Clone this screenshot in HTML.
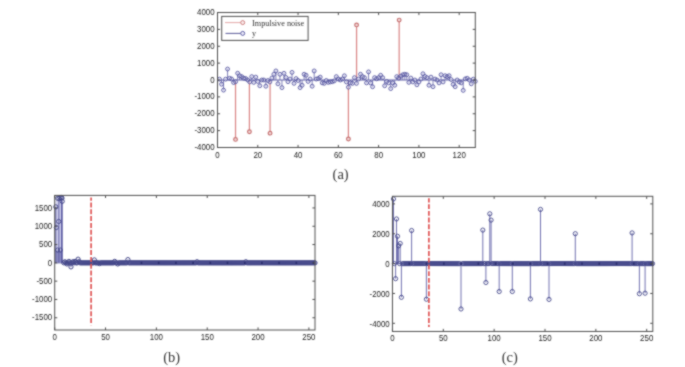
<!DOCTYPE html><html><head><meta charset="utf-8"><style>html,body{margin:0;padding:0;background:#fff;}svg{display:block;}.t{font-family:"Liberation Sans", sans-serif;font-size:8.5px;fill:#222222;}.cap{font-family:"Liberation Serif", serif;font-size:14.5px;fill:#383838;}.lg{font-family:"Liberation Serif", serif;font-size:8.2px;fill:#333;}</style></head><body>
<svg width="685" height="367" viewBox="0 0 685 367">
<defs><filter id="soft" x="0" y="0" width="100%" height="100%" color-interpolation-filters="sRGB"><feConvolveMatrix order="3" kernelMatrix="1 2 1 2 10 2 1 2 1" divisor="22" edgeMode="duplicate"/></filter></defs>
<g filter="url(#soft)">
<rect width="685" height="367" fill="#fff"/>
<g>
<path d="M235.53 80V139.4M249.42 80V131.81M270.07 80V133.16M348.41 80V139.06M356.57 80V24.9M399.17 80V20.09" stroke="#d98585" stroke-width="1.2" fill="none"/>
<path d="M233.68 139.4a1.85 1.85 0 1 0 3.7 0a1.85 1.85 0 1 0 -3.7 0M247.57 131.81a1.85 1.85 0 1 0 3.7 0a1.85 1.85 0 1 0 -3.7 0M268.22 133.16a1.85 1.85 0 1 0 3.7 0a1.85 1.85 0 1 0 -3.7 0M346.56 139.06a1.85 1.85 0 1 0 3.7 0a1.85 1.85 0 1 0 -3.7 0M354.72 24.9a1.85 1.85 0 1 0 3.7 0a1.85 1.85 0 1 0 -3.7 0M397.32 20.09a1.85 1.85 0 1 0 3.7 0a1.85 1.85 0 1 0 -3.7 0" stroke="#c67272" stroke-width="1.2" fill="#f3dcdc"/>
<path d="M217.5 80H475.3" stroke="#6262a8" stroke-width="1"/>
<path d="M219.51 80V79.16M221.53 80V84.22M223.54 80V90.12M225.56 80V79.16M227.57 80V69.03M229.58 80V78.31M231.6 80V78.99M233.61 80V82.53M235.63 80V81.69M237.64 80V73.25M239.65 80V75.78M241.67 80V76.62M243.68 80V78.14M245.7 80V78.57M247.71 80V80M249.72 80V81.91M251.74 80V76.62M253.75 80V82.38M255.77 80V77.13M257.78 80V81.43M259.8 80V85.74M261.81 80V80M263.82 80V80M265.84 80V86.21M267.85 80V80.51M269.87 80V81.91M271.88 80V78.09M273.89 80V74.26M275.91 80V70.94M277.92 80V83.81M279.94 80V74.26M281.95 80V87.63M283.96 80V73.32M285.98 80V77.47M287.99 80V81.69M290.01 80V79.04M292.02 80V72.37M294.03 80V83.34M296.05 80V78.57M298.06 80V80.47M300.08 80V87.63M302.09 80V85.25M304.1 80V74.26M306.12 80V75.22M308.13 80V81.43M310.15 80V79.04M312.16 80V86.21M314.18 80V70.94M316.19 80V79.04M318.2 80V78.57M320.22 80V77.13M322.23 80V82.87M324.25 80V83.34M326.26 80V80.47M328.27 80V82.38M330.29 80V81.91M332.3 80V81.69M334.32 80V80.84M336.33 80V76.62M338.34 80V79.04M340.36 80V80M342.37 80V79.04M344.39 80V75.78M346.4 80V81.91M348.41 80V87.17M350.43 80V82.87M352.44 80V83.38M354.46 80V77.64M356.47 80V83.38M358.48 80V79.04M360.5 80V74.26M362.51 80V76.62M364.53 80V77.64M366.54 80V82.87M368.55 80V71.9M370.57 80V82.87M372.58 80V86.75M374.6 80V77.64M376.61 80V78.82M378.62 80V77.64M380.64 80V75.28M382.65 80V77.64M384.67 80V85.74M386.68 80V81.43M388.7 80V82.87M390.71 80V88.61M392.72 80V82.87M394.74 80V85.25M396.75 80V76.62M398.77 80V78.09M400.78 80V76.19M402.79 80V74.75M404.81 80V74.26M406.82 80V74.75M408.84 80V82.38M410.85 80V78.09M412.86 80V81.91M414.88 80V80M416.89 80V84.78M418.91 80V81.91M420.92 80V79.04M422.93 80V73.76M424.95 80V76.46M426.96 80V77.64M428.98 80V85.25M430.99 80V77.13M433 80V86.68M435.02 80V79.04M437.03 80V80M439.05 80V82.87M441.06 80V74.75M443.08 80V81.91M445.09 80V75.71M447.1 80V76.62M449.12 80V75.71M451.13 80V79.53M453.15 80V84.29M455.16 80V86.68M457.17 80V80M459.19 80V81.91M461.2 80V82.87M463.22 80V90.38M465.23 80V78.9M467.24 80V78.31M469.26 80V80M471.27 80V83.8M473.29 80V79.16M475.3 80V81.35" stroke="#6262a8" stroke-width="0.8" fill="none"/>
<path d="M217.56 79.16a1.95 1.95 0 1 0 3.9 0a1.95 1.95 0 1 0 -3.9 0M219.58 84.22a1.95 1.95 0 1 0 3.9 0a1.95 1.95 0 1 0 -3.9 0M221.59 90.12a1.95 1.95 0 1 0 3.9 0a1.95 1.95 0 1 0 -3.9 0M223.61 79.16a1.95 1.95 0 1 0 3.9 0a1.95 1.95 0 1 0 -3.9 0M225.62 69.03a1.95 1.95 0 1 0 3.9 0a1.95 1.95 0 1 0 -3.9 0M227.63 78.31a1.95 1.95 0 1 0 3.9 0a1.95 1.95 0 1 0 -3.9 0M229.65 78.99a1.95 1.95 0 1 0 3.9 0a1.95 1.95 0 1 0 -3.9 0M231.66 82.53a1.95 1.95 0 1 0 3.9 0a1.95 1.95 0 1 0 -3.9 0M233.68 81.69a1.95 1.95 0 1 0 3.9 0a1.95 1.95 0 1 0 -3.9 0M235.69 73.25a1.95 1.95 0 1 0 3.9 0a1.95 1.95 0 1 0 -3.9 0M237.7 75.78a1.95 1.95 0 1 0 3.9 0a1.95 1.95 0 1 0 -3.9 0M239.72 76.62a1.95 1.95 0 1 0 3.9 0a1.95 1.95 0 1 0 -3.9 0M241.73 78.14a1.95 1.95 0 1 0 3.9 0a1.95 1.95 0 1 0 -3.9 0M243.75 78.57a1.95 1.95 0 1 0 3.9 0a1.95 1.95 0 1 0 -3.9 0M245.76 80a1.95 1.95 0 1 0 3.9 0a1.95 1.95 0 1 0 -3.9 0M247.78 81.91a1.95 1.95 0 1 0 3.9 0a1.95 1.95 0 1 0 -3.9 0M249.79 76.62a1.95 1.95 0 1 0 3.9 0a1.95 1.95 0 1 0 -3.9 0M251.8 82.38a1.95 1.95 0 1 0 3.9 0a1.95 1.95 0 1 0 -3.9 0M253.82 77.13a1.95 1.95 0 1 0 3.9 0a1.95 1.95 0 1 0 -3.9 0M255.83 81.43a1.95 1.95 0 1 0 3.9 0a1.95 1.95 0 1 0 -3.9 0M257.85 85.74a1.95 1.95 0 1 0 3.9 0a1.95 1.95 0 1 0 -3.9 0M259.86 80a1.95 1.95 0 1 0 3.9 0a1.95 1.95 0 1 0 -3.9 0M261.87 80a1.95 1.95 0 1 0 3.9 0a1.95 1.95 0 1 0 -3.9 0M263.89 86.21a1.95 1.95 0 1 0 3.9 0a1.95 1.95 0 1 0 -3.9 0M265.9 80.51a1.95 1.95 0 1 0 3.9 0a1.95 1.95 0 1 0 -3.9 0M267.92 81.91a1.95 1.95 0 1 0 3.9 0a1.95 1.95 0 1 0 -3.9 0M269.93 78.09a1.95 1.95 0 1 0 3.9 0a1.95 1.95 0 1 0 -3.9 0M271.94 74.26a1.95 1.95 0 1 0 3.9 0a1.95 1.95 0 1 0 -3.9 0M273.96 70.94a1.95 1.95 0 1 0 3.9 0a1.95 1.95 0 1 0 -3.9 0M275.97 83.81a1.95 1.95 0 1 0 3.9 0a1.95 1.95 0 1 0 -3.9 0M277.99 74.26a1.95 1.95 0 1 0 3.9 0a1.95 1.95 0 1 0 -3.9 0M280 87.63a1.95 1.95 0 1 0 3.9 0a1.95 1.95 0 1 0 -3.9 0M282.01 73.32a1.95 1.95 0 1 0 3.9 0a1.95 1.95 0 1 0 -3.9 0M284.03 77.47a1.95 1.95 0 1 0 3.9 0a1.95 1.95 0 1 0 -3.9 0M286.04 81.69a1.95 1.95 0 1 0 3.9 0a1.95 1.95 0 1 0 -3.9 0M288.06 79.04a1.95 1.95 0 1 0 3.9 0a1.95 1.95 0 1 0 -3.9 0M290.07 72.37a1.95 1.95 0 1 0 3.9 0a1.95 1.95 0 1 0 -3.9 0M292.08 83.34a1.95 1.95 0 1 0 3.9 0a1.95 1.95 0 1 0 -3.9 0M294.1 78.57a1.95 1.95 0 1 0 3.9 0a1.95 1.95 0 1 0 -3.9 0M296.11 80.47a1.95 1.95 0 1 0 3.9 0a1.95 1.95 0 1 0 -3.9 0M298.13 87.63a1.95 1.95 0 1 0 3.9 0a1.95 1.95 0 1 0 -3.9 0M300.14 85.25a1.95 1.95 0 1 0 3.9 0a1.95 1.95 0 1 0 -3.9 0M302.15 74.26a1.95 1.95 0 1 0 3.9 0a1.95 1.95 0 1 0 -3.9 0M304.17 75.22a1.95 1.95 0 1 0 3.9 0a1.95 1.95 0 1 0 -3.9 0M306.18 81.43a1.95 1.95 0 1 0 3.9 0a1.95 1.95 0 1 0 -3.9 0M308.2 79.04a1.95 1.95 0 1 0 3.9 0a1.95 1.95 0 1 0 -3.9 0M310.21 86.21a1.95 1.95 0 1 0 3.9 0a1.95 1.95 0 1 0 -3.9 0M312.23 70.94a1.95 1.95 0 1 0 3.9 0a1.95 1.95 0 1 0 -3.9 0M314.24 79.04a1.95 1.95 0 1 0 3.9 0a1.95 1.95 0 1 0 -3.9 0M316.25 78.57a1.95 1.95 0 1 0 3.9 0a1.95 1.95 0 1 0 -3.9 0M318.27 77.13a1.95 1.95 0 1 0 3.9 0a1.95 1.95 0 1 0 -3.9 0M320.28 82.87a1.95 1.95 0 1 0 3.9 0a1.95 1.95 0 1 0 -3.9 0M322.3 83.34a1.95 1.95 0 1 0 3.9 0a1.95 1.95 0 1 0 -3.9 0M324.31 80.47a1.95 1.95 0 1 0 3.9 0a1.95 1.95 0 1 0 -3.9 0M326.32 82.38a1.95 1.95 0 1 0 3.9 0a1.95 1.95 0 1 0 -3.9 0M328.34 81.91a1.95 1.95 0 1 0 3.9 0a1.95 1.95 0 1 0 -3.9 0M330.35 81.69a1.95 1.95 0 1 0 3.9 0a1.95 1.95 0 1 0 -3.9 0M332.37 80.84a1.95 1.95 0 1 0 3.9 0a1.95 1.95 0 1 0 -3.9 0M334.38 76.62a1.95 1.95 0 1 0 3.9 0a1.95 1.95 0 1 0 -3.9 0M336.39 79.04a1.95 1.95 0 1 0 3.9 0a1.95 1.95 0 1 0 -3.9 0M338.41 80a1.95 1.95 0 1 0 3.9 0a1.95 1.95 0 1 0 -3.9 0M340.42 79.04a1.95 1.95 0 1 0 3.9 0a1.95 1.95 0 1 0 -3.9 0M342.44 75.78a1.95 1.95 0 1 0 3.9 0a1.95 1.95 0 1 0 -3.9 0M344.45 81.91a1.95 1.95 0 1 0 3.9 0a1.95 1.95 0 1 0 -3.9 0M346.46 87.17a1.95 1.95 0 1 0 3.9 0a1.95 1.95 0 1 0 -3.9 0M348.48 82.87a1.95 1.95 0 1 0 3.9 0a1.95 1.95 0 1 0 -3.9 0M350.49 83.38a1.95 1.95 0 1 0 3.9 0a1.95 1.95 0 1 0 -3.9 0M352.51 77.64a1.95 1.95 0 1 0 3.9 0a1.95 1.95 0 1 0 -3.9 0M354.52 83.38a1.95 1.95 0 1 0 3.9 0a1.95 1.95 0 1 0 -3.9 0M356.53 79.04a1.95 1.95 0 1 0 3.9 0a1.95 1.95 0 1 0 -3.9 0M358.55 74.26a1.95 1.95 0 1 0 3.9 0a1.95 1.95 0 1 0 -3.9 0M360.56 76.62a1.95 1.95 0 1 0 3.9 0a1.95 1.95 0 1 0 -3.9 0M362.58 77.64a1.95 1.95 0 1 0 3.9 0a1.95 1.95 0 1 0 -3.9 0M364.59 82.87a1.95 1.95 0 1 0 3.9 0a1.95 1.95 0 1 0 -3.9 0M366.6 71.9a1.95 1.95 0 1 0 3.9 0a1.95 1.95 0 1 0 -3.9 0M368.62 82.87a1.95 1.95 0 1 0 3.9 0a1.95 1.95 0 1 0 -3.9 0M370.63 86.75a1.95 1.95 0 1 0 3.9 0a1.95 1.95 0 1 0 -3.9 0M372.65 77.64a1.95 1.95 0 1 0 3.9 0a1.95 1.95 0 1 0 -3.9 0M374.66 78.82a1.95 1.95 0 1 0 3.9 0a1.95 1.95 0 1 0 -3.9 0M376.68 77.64a1.95 1.95 0 1 0 3.9 0a1.95 1.95 0 1 0 -3.9 0M378.69 75.28a1.95 1.95 0 1 0 3.9 0a1.95 1.95 0 1 0 -3.9 0M380.7 77.64a1.95 1.95 0 1 0 3.9 0a1.95 1.95 0 1 0 -3.9 0M382.72 85.74a1.95 1.95 0 1 0 3.9 0a1.95 1.95 0 1 0 -3.9 0M384.73 81.43a1.95 1.95 0 1 0 3.9 0a1.95 1.95 0 1 0 -3.9 0M386.75 82.87a1.95 1.95 0 1 0 3.9 0a1.95 1.95 0 1 0 -3.9 0M388.76 88.61a1.95 1.95 0 1 0 3.9 0a1.95 1.95 0 1 0 -3.9 0M390.77 82.87a1.95 1.95 0 1 0 3.9 0a1.95 1.95 0 1 0 -3.9 0M392.79 85.25a1.95 1.95 0 1 0 3.9 0a1.95 1.95 0 1 0 -3.9 0M394.8 76.62a1.95 1.95 0 1 0 3.9 0a1.95 1.95 0 1 0 -3.9 0M396.82 78.09a1.95 1.95 0 1 0 3.9 0a1.95 1.95 0 1 0 -3.9 0M398.83 76.19a1.95 1.95 0 1 0 3.9 0a1.95 1.95 0 1 0 -3.9 0M400.84 74.75a1.95 1.95 0 1 0 3.9 0a1.95 1.95 0 1 0 -3.9 0M402.86 74.26a1.95 1.95 0 1 0 3.9 0a1.95 1.95 0 1 0 -3.9 0M404.87 74.75a1.95 1.95 0 1 0 3.9 0a1.95 1.95 0 1 0 -3.9 0M406.89 82.38a1.95 1.95 0 1 0 3.9 0a1.95 1.95 0 1 0 -3.9 0M408.9 78.09a1.95 1.95 0 1 0 3.9 0a1.95 1.95 0 1 0 -3.9 0M410.91 81.91a1.95 1.95 0 1 0 3.9 0a1.95 1.95 0 1 0 -3.9 0M412.93 80a1.95 1.95 0 1 0 3.9 0a1.95 1.95 0 1 0 -3.9 0M414.94 84.78a1.95 1.95 0 1 0 3.9 0a1.95 1.95 0 1 0 -3.9 0M416.96 81.91a1.95 1.95 0 1 0 3.9 0a1.95 1.95 0 1 0 -3.9 0M418.97 79.04a1.95 1.95 0 1 0 3.9 0a1.95 1.95 0 1 0 -3.9 0M420.98 73.76a1.95 1.95 0 1 0 3.9 0a1.95 1.95 0 1 0 -3.9 0M423 76.46a1.95 1.95 0 1 0 3.9 0a1.95 1.95 0 1 0 -3.9 0M425.01 77.64a1.95 1.95 0 1 0 3.9 0a1.95 1.95 0 1 0 -3.9 0M427.03 85.25a1.95 1.95 0 1 0 3.9 0a1.95 1.95 0 1 0 -3.9 0M429.04 77.13a1.95 1.95 0 1 0 3.9 0a1.95 1.95 0 1 0 -3.9 0M431.05 86.68a1.95 1.95 0 1 0 3.9 0a1.95 1.95 0 1 0 -3.9 0M433.07 79.04a1.95 1.95 0 1 0 3.9 0a1.95 1.95 0 1 0 -3.9 0M435.08 80a1.95 1.95 0 1 0 3.9 0a1.95 1.95 0 1 0 -3.9 0M437.1 82.87a1.95 1.95 0 1 0 3.9 0a1.95 1.95 0 1 0 -3.9 0M439.11 74.75a1.95 1.95 0 1 0 3.9 0a1.95 1.95 0 1 0 -3.9 0M441.13 81.91a1.95 1.95 0 1 0 3.9 0a1.95 1.95 0 1 0 -3.9 0M443.14 75.71a1.95 1.95 0 1 0 3.9 0a1.95 1.95 0 1 0 -3.9 0M445.15 76.62a1.95 1.95 0 1 0 3.9 0a1.95 1.95 0 1 0 -3.9 0M447.17 75.71a1.95 1.95 0 1 0 3.9 0a1.95 1.95 0 1 0 -3.9 0M449.18 79.53a1.95 1.95 0 1 0 3.9 0a1.95 1.95 0 1 0 -3.9 0M451.2 84.29a1.95 1.95 0 1 0 3.9 0a1.95 1.95 0 1 0 -3.9 0M453.21 86.68a1.95 1.95 0 1 0 3.9 0a1.95 1.95 0 1 0 -3.9 0M455.22 80a1.95 1.95 0 1 0 3.9 0a1.95 1.95 0 1 0 -3.9 0M457.24 81.91a1.95 1.95 0 1 0 3.9 0a1.95 1.95 0 1 0 -3.9 0M459.25 82.87a1.95 1.95 0 1 0 3.9 0a1.95 1.95 0 1 0 -3.9 0M461.27 90.38a1.95 1.95 0 1 0 3.9 0a1.95 1.95 0 1 0 -3.9 0M463.28 78.9a1.95 1.95 0 1 0 3.9 0a1.95 1.95 0 1 0 -3.9 0M465.29 78.31a1.95 1.95 0 1 0 3.9 0a1.95 1.95 0 1 0 -3.9 0M467.31 80a1.95 1.95 0 1 0 3.9 0a1.95 1.95 0 1 0 -3.9 0M469.32 83.8a1.95 1.95 0 1 0 3.9 0a1.95 1.95 0 1 0 -3.9 0M471.34 79.16a1.95 1.95 0 1 0 3.9 0a1.95 1.95 0 1 0 -3.9 0M473.35 81.35a1.95 1.95 0 1 0 3.9 0a1.95 1.95 0 1 0 -3.9 0" stroke="#4f4f9c" stroke-width="0.8" fill="rgba(215,215,238,0.6)"/>
<rect x="217.5" y="12.5" width="257.8" height="135" fill="none" stroke="#505050" stroke-width="1"/>
<path d="M217.5 147.5v-2.6M217.5 12.5v2.6M257.78 147.5v-2.6M257.78 12.5v2.6M298.06 147.5v-2.6M298.06 12.5v2.6M338.34 147.5v-2.6M338.34 12.5v2.6M378.62 147.5v-2.6M378.62 12.5v2.6M418.91 147.5v-2.6M418.91 12.5v2.6M459.19 147.5v-2.6M459.19 12.5v2.6M217.5 147.5h2.6M475.3 147.5h-2.6M217.5 130.62h2.6M475.3 130.62h-2.6M217.5 113.75h2.6M475.3 113.75h-2.6M217.5 96.88h2.6M475.3 96.88h-2.6M217.5 80h2.6M475.3 80h-2.6M217.5 63.12h2.6M475.3 63.12h-2.6M217.5 46.25h2.6M475.3 46.25h-2.6M217.5 29.38h2.6M475.3 29.38h-2.6M217.5 12.5h2.6M475.3 12.5h-2.6" stroke="#505050" stroke-width="1" fill="none"/>
<text transform="translate(217.5 157.66) scale(0.93 1)" text-anchor="middle" class="t">0</text>
<text transform="translate(257.78 157.66) scale(0.93 1)" text-anchor="middle" class="t">20</text>
<text transform="translate(298.06 157.66) scale(0.93 1)" text-anchor="middle" class="t">40</text>
<text transform="translate(338.34 157.66) scale(0.93 1)" text-anchor="middle" class="t">60</text>
<text transform="translate(378.62 157.66) scale(0.93 1)" text-anchor="middle" class="t">80</text>
<text transform="translate(418.91 157.66) scale(0.93 1)" text-anchor="middle" class="t">100</text>
<text transform="translate(459.19 157.66) scale(0.93 1)" text-anchor="middle" class="t">120</text>
<text transform="translate(214.6 150.11) scale(0.93 1)" text-anchor="end" class="t">-4000</text>
<text transform="translate(214.6 133.24) scale(0.93 1)" text-anchor="end" class="t">-3000</text>
<text transform="translate(214.6 116.36) scale(0.93 1)" text-anchor="end" class="t">-2000</text>
<text transform="translate(214.6 99.48) scale(0.93 1)" text-anchor="end" class="t">-1000</text>
<text transform="translate(214.6 82.61) scale(0.93 1)" text-anchor="end" class="t">0</text>
<text transform="translate(214.6 65.73) scale(0.93 1)" text-anchor="end" class="t">1000</text>
<text transform="translate(214.6 48.86) scale(0.93 1)" text-anchor="end" class="t">2000</text>
<text transform="translate(214.6 31.99) scale(0.93 1)" text-anchor="end" class="t">3000</text>
<text transform="translate(214.6 15.11) scale(0.93 1)" text-anchor="end" class="t">4000</text>
<rect x="221.7" y="16.4" width="86.4" height="24" fill="#fff" stroke="#505050" stroke-width="1"/>
<path d="M225 22.6H240.7" stroke="#e4a8a8" stroke-width="1"/>
<circle cx="242.7" cy="22.6" r="2" stroke="#c67272" stroke-width="0.9" fill="#fbeeee"/>
<path d="M225.5 33.4H240.7" stroke="#5a5a9a" stroke-width="1"/>
<circle cx="242.7" cy="33.4" r="2" stroke="#4f4f9c" stroke-width="0.9" fill="#eeeefa"/>
<text x="252.1" y="26.4" class="lg">Impulsive noise</text>
<text x="252.1" y="36.4" class="lg">y</text>
<text x="340.6" y="178.8" text-anchor="middle" class="cap">(a)</text>
</g>
<g>
<path d="M54.7 262.85H315" stroke="#6262a8" stroke-width="1"/>
<rect x="55.6" y="201" width="6.9" height="61.85" fill="#d2d2ee"/>
<rect x="55.6" y="250.77" width="6.9" height="12.08" fill="#8c8cc4"/>
<path d="M55.8 262.85V206.85M58.9 262.85V198.43M61.5 262.85V197.52M62.2 262.85V201.36M63.85 262.85V262.85M64.87 262.85V261.75M65.88 262.85V262.85M66.9 262.85V263.95M67.92 262.85V262.85M68.94 262.85V261.39M69.95 262.85V262.85M70.97 262.85V266.88M71.99 262.85V262.85M73 262.85V261.75M74.02 262.85V262.85M75.04 262.85V261.39M76.05 262.85V262.85M77.07 262.85V262.85M78.09 262.85V259.19M79.1 262.85V261.75M80.12 262.85V262.85M81.14 262.85V262.85M82.15 262.85V262.85M83.17 262.85V262.85M84.19 262.85V262.85M85.2 262.85V262.85M86.22 262.85V262.85M87.24 262.85V262.85M88.25 262.85V262.85M89.27 262.85V262.85M90.29 262.85V262.85M91.3 262.85V262.85M92.32 262.85V262.85M93.34 262.85V262.85M94.36 262.85V259.92M95.37 262.85V262.85M96.39 262.85V262.85M97.41 262.85V262.85M98.42 262.85V262.85M99.44 262.85V263.58M100.46 262.85V262.85M101.47 262.85V262.85M102.49 262.85V262.85M103.51 262.85V262.85M104.52 262.85V262.85M105.54 262.85V262.85M106.56 262.85V262.85M107.57 262.85V262.85M108.59 262.85V262.85M109.61 262.85V262.85M110.62 262.85V262.85M111.64 262.85V262.85M112.66 262.85V262.85M113.67 262.85V262.85M114.69 262.85V261.39M115.71 262.85V262.85M116.72 262.85V262.85M117.74 262.85V263.95M118.76 262.85V262.85M119.78 262.85V262.85M120.79 262.85V262.85M121.81 262.85V262.85M122.83 262.85V262.85M123.84 262.85V262.85M124.86 262.85V262.85M125.88 262.85V262.85M126.89 262.85V262.85M127.91 262.85V259.56M128.93 262.85V262.85M129.94 262.85V262.85M130.96 262.85V262.85M131.98 262.85V262.85M132.99 262.85V262.85M134.01 262.85V262.85M135.03 262.85V262.85M136.04 262.85V262.85M137.06 262.85V262.85M138.08 262.85V262.85M139.09 262.85V262.85M140.11 262.85V262.85M141.13 262.85V262.85M142.14 262.85V262.85M143.16 262.85V262.85M144.18 262.85V262.85M145.2 262.85V262.85M146.21 262.85V262.85M147.23 262.85V262.85M148.25 262.85V262.85M149.26 262.85V262.85M150.28 262.85V262.85M151.3 262.85V262.85M152.31 262.85V262.85M153.33 262.85V262.85M154.35 262.85V262.85M155.36 262.85V262.85M156.38 262.85V262.85M157.4 262.85V262.85M158.41 262.85V262.85M159.43 262.85V262.85M160.45 262.85V262.85M161.46 262.85V262.85M162.48 262.85V262.85M163.5 262.85V262.85M164.51 262.85V262.85M165.53 262.85V262.85M166.55 262.85V262.85M167.56 262.85V262.85M168.58 262.85V262.85M169.6 262.85V262.85M170.62 262.85V262.85M171.63 262.85V262.85M172.65 262.85V262.85M173.67 262.85V262.85M174.68 262.85V262.85M175.7 262.85V262.85M176.72 262.85V262.85M177.73 262.85V262.85M178.75 262.85V262.85M179.77 262.85V262.85M180.78 262.85V262.85M181.8 262.85V262.85M182.82 262.85V262.85M183.83 262.85V262.85M184.85 262.85V262.85M185.87 262.85V262.85M186.88 262.85V262.85M187.9 262.85V262.85M188.92 262.85V262.85M189.93 262.85V262.85M190.95 262.85V262.85M191.97 262.85V262.85M192.98 262.85V262.85M194 262.85V262.85M195.02 262.85V262.85M196.04 262.85V262.85M197.05 262.85V261.75M198.07 262.85V262.85M199.09 262.85V262.85M200.1 262.85V262.85M201.12 262.85V262.85M202.14 262.85V262.85M203.15 262.85V262.85M204.17 262.85V262.85M205.19 262.85V262.85M206.2 262.85V262.85M207.22 262.85V262.85M208.24 262.85V262.85M209.25 262.85V262.85M210.27 262.85V262.85M211.29 262.85V262.85M212.3 262.85V262.85M213.32 262.85V262.85M214.34 262.85V262.85M215.35 262.85V262.85M216.37 262.85V262.85M217.39 262.85V262.85M218.4 262.85V262.85M219.42 262.85V262.85M220.44 262.85V262.85M221.46 262.85V262.85M222.47 262.85V262.85M223.49 262.85V262.85M224.51 262.85V262.85M225.52 262.85V262.85M226.54 262.85V262.85M227.56 262.85V262.85M228.57 262.85V262.85M229.59 262.85V262.85M230.61 262.85V262.85M231.62 262.85V262.85M232.64 262.85V262.85M233.66 262.85V262.85M234.67 262.85V262.85M235.69 262.85V262.85M236.71 262.85V262.85M237.72 262.85V262.85M238.74 262.85V262.85M239.76 262.85V262.85M240.77 262.85V262.85M241.79 262.85V262.85M242.81 262.85V262.85M243.82 262.85V262.85M244.84 262.85V262.85M245.86 262.85V261.75M246.88 262.85V262.85M247.89 262.85V262.85M248.91 262.85V262.85M249.93 262.85V262.85M250.94 262.85V262.85M251.96 262.85V262.85M252.98 262.85V262.85M253.99 262.85V262.85M255.01 262.85V262.85M256.03 262.85V262.85M257.04 262.85V262.85M258.06 262.85V262.85M259.08 262.85V262.85M260.09 262.85V262.85M261.11 262.85V262.85M262.13 262.85V262.85M263.14 262.85V262.85M264.16 262.85V262.85M265.18 262.85V262.85M266.19 262.85V262.85M267.21 262.85V262.85M268.23 262.85V262.85M269.24 262.85V262.85M270.26 262.85V262.85M271.28 262.85V262.85M272.3 262.85V262.85M273.31 262.85V262.85M274.33 262.85V262.85M275.35 262.85V262.85M276.36 262.85V262.85M277.38 262.85V262.85M278.4 262.85V262.85M279.41 262.85V262.85M280.43 262.85V262.85M281.45 262.85V262.85M282.46 262.85V262.85M283.48 262.85V262.85M284.5 262.85V262.85M285.51 262.85V262.85M286.53 262.85V262.85M287.55 262.85V262.85M288.56 262.85V262.85M289.58 262.85V262.85M290.6 262.85V262.85M291.61 262.85V262.85M292.63 262.85V262.85M293.65 262.85V262.85M294.66 262.85V262.85M295.68 262.85V262.85M296.7 262.85V262.85M297.72 262.85V262.85M298.73 262.85V262.85M299.75 262.85V262.85M300.77 262.85V262.85M301.78 262.85V262.85M302.8 262.85V262.85M303.82 262.85V262.85M304.83 262.85V262.85M305.85 262.85V262.85M306.87 262.85V262.85M307.88 262.85V262.85M308.9 262.85V262.85M309.92 262.85V262.85M310.93 262.85V262.85M311.95 262.85V262.85M312.97 262.85V262.85M313.98 262.85V262.85M315 262.85V262.85" stroke="#5c5ca2" stroke-width="1.0" fill="none"/>
<path d="M53.7 206.85a2.1 2.1 0 1 0 4.2 0a2.1 2.1 0 1 0 -4.2 0M56.8 198.43a2.1 2.1 0 1 0 4.2 0a2.1 2.1 0 1 0 -4.2 0M59.4 197.52a2.1 2.1 0 1 0 4.2 0a2.1 2.1 0 1 0 -4.2 0M60.1 201.36a2.1 2.1 0 1 0 4.2 0a2.1 2.1 0 1 0 -4.2 0M61.75 262.85a2.1 2.1 0 1 0 4.2 0a2.1 2.1 0 1 0 -4.2 0M62.77 261.75a2.1 2.1 0 1 0 4.2 0a2.1 2.1 0 1 0 -4.2 0M63.78 262.85a2.1 2.1 0 1 0 4.2 0a2.1 2.1 0 1 0 -4.2 0M64.8 263.95a2.1 2.1 0 1 0 4.2 0a2.1 2.1 0 1 0 -4.2 0M65.82 262.85a2.1 2.1 0 1 0 4.2 0a2.1 2.1 0 1 0 -4.2 0M66.84 261.39a2.1 2.1 0 1 0 4.2 0a2.1 2.1 0 1 0 -4.2 0M67.85 262.85a2.1 2.1 0 1 0 4.2 0a2.1 2.1 0 1 0 -4.2 0M68.87 266.88a2.1 2.1 0 1 0 4.2 0a2.1 2.1 0 1 0 -4.2 0M69.89 262.85a2.1 2.1 0 1 0 4.2 0a2.1 2.1 0 1 0 -4.2 0M70.9 261.75a2.1 2.1 0 1 0 4.2 0a2.1 2.1 0 1 0 -4.2 0M71.92 262.85a2.1 2.1 0 1 0 4.2 0a2.1 2.1 0 1 0 -4.2 0M72.94 261.39a2.1 2.1 0 1 0 4.2 0a2.1 2.1 0 1 0 -4.2 0M73.95 262.85a2.1 2.1 0 1 0 4.2 0a2.1 2.1 0 1 0 -4.2 0M74.97 262.85a2.1 2.1 0 1 0 4.2 0a2.1 2.1 0 1 0 -4.2 0M75.99 259.19a2.1 2.1 0 1 0 4.2 0a2.1 2.1 0 1 0 -4.2 0M77 261.75a2.1 2.1 0 1 0 4.2 0a2.1 2.1 0 1 0 -4.2 0M78.02 262.85a2.1 2.1 0 1 0 4.2 0a2.1 2.1 0 1 0 -4.2 0M79.04 262.85a2.1 2.1 0 1 0 4.2 0a2.1 2.1 0 1 0 -4.2 0M80.05 262.85a2.1 2.1 0 1 0 4.2 0a2.1 2.1 0 1 0 -4.2 0M81.07 262.85a2.1 2.1 0 1 0 4.2 0a2.1 2.1 0 1 0 -4.2 0M82.09 262.85a2.1 2.1 0 1 0 4.2 0a2.1 2.1 0 1 0 -4.2 0M83.1 262.85a2.1 2.1 0 1 0 4.2 0a2.1 2.1 0 1 0 -4.2 0M84.12 262.85a2.1 2.1 0 1 0 4.2 0a2.1 2.1 0 1 0 -4.2 0M85.14 262.85a2.1 2.1 0 1 0 4.2 0a2.1 2.1 0 1 0 -4.2 0M86.15 262.85a2.1 2.1 0 1 0 4.2 0a2.1 2.1 0 1 0 -4.2 0M87.17 262.85a2.1 2.1 0 1 0 4.2 0a2.1 2.1 0 1 0 -4.2 0M88.19 262.85a2.1 2.1 0 1 0 4.2 0a2.1 2.1 0 1 0 -4.2 0M89.2 262.85a2.1 2.1 0 1 0 4.2 0a2.1 2.1 0 1 0 -4.2 0M90.22 262.85a2.1 2.1 0 1 0 4.2 0a2.1 2.1 0 1 0 -4.2 0M91.24 262.85a2.1 2.1 0 1 0 4.2 0a2.1 2.1 0 1 0 -4.2 0M92.26 259.92a2.1 2.1 0 1 0 4.2 0a2.1 2.1 0 1 0 -4.2 0M93.27 262.85a2.1 2.1 0 1 0 4.2 0a2.1 2.1 0 1 0 -4.2 0M94.29 262.85a2.1 2.1 0 1 0 4.2 0a2.1 2.1 0 1 0 -4.2 0M95.31 262.85a2.1 2.1 0 1 0 4.2 0a2.1 2.1 0 1 0 -4.2 0M96.32 262.85a2.1 2.1 0 1 0 4.2 0a2.1 2.1 0 1 0 -4.2 0M97.34 263.58a2.1 2.1 0 1 0 4.2 0a2.1 2.1 0 1 0 -4.2 0M98.36 262.85a2.1 2.1 0 1 0 4.2 0a2.1 2.1 0 1 0 -4.2 0M99.37 262.85a2.1 2.1 0 1 0 4.2 0a2.1 2.1 0 1 0 -4.2 0M100.39 262.85a2.1 2.1 0 1 0 4.2 0a2.1 2.1 0 1 0 -4.2 0M101.41 262.85a2.1 2.1 0 1 0 4.2 0a2.1 2.1 0 1 0 -4.2 0M102.42 262.85a2.1 2.1 0 1 0 4.2 0a2.1 2.1 0 1 0 -4.2 0M103.44 262.85a2.1 2.1 0 1 0 4.2 0a2.1 2.1 0 1 0 -4.2 0M104.46 262.85a2.1 2.1 0 1 0 4.2 0a2.1 2.1 0 1 0 -4.2 0M105.47 262.85a2.1 2.1 0 1 0 4.2 0a2.1 2.1 0 1 0 -4.2 0M106.49 262.85a2.1 2.1 0 1 0 4.2 0a2.1 2.1 0 1 0 -4.2 0M107.51 262.85a2.1 2.1 0 1 0 4.2 0a2.1 2.1 0 1 0 -4.2 0M108.52 262.85a2.1 2.1 0 1 0 4.2 0a2.1 2.1 0 1 0 -4.2 0M109.54 262.85a2.1 2.1 0 1 0 4.2 0a2.1 2.1 0 1 0 -4.2 0M110.56 262.85a2.1 2.1 0 1 0 4.2 0a2.1 2.1 0 1 0 -4.2 0M111.57 262.85a2.1 2.1 0 1 0 4.2 0a2.1 2.1 0 1 0 -4.2 0M112.59 261.39a2.1 2.1 0 1 0 4.2 0a2.1 2.1 0 1 0 -4.2 0M113.61 262.85a2.1 2.1 0 1 0 4.2 0a2.1 2.1 0 1 0 -4.2 0M114.62 262.85a2.1 2.1 0 1 0 4.2 0a2.1 2.1 0 1 0 -4.2 0M115.64 263.95a2.1 2.1 0 1 0 4.2 0a2.1 2.1 0 1 0 -4.2 0M116.66 262.85a2.1 2.1 0 1 0 4.2 0a2.1 2.1 0 1 0 -4.2 0M117.68 262.85a2.1 2.1 0 1 0 4.2 0a2.1 2.1 0 1 0 -4.2 0M118.69 262.85a2.1 2.1 0 1 0 4.2 0a2.1 2.1 0 1 0 -4.2 0M119.71 262.85a2.1 2.1 0 1 0 4.2 0a2.1 2.1 0 1 0 -4.2 0M120.73 262.85a2.1 2.1 0 1 0 4.2 0a2.1 2.1 0 1 0 -4.2 0M121.74 262.85a2.1 2.1 0 1 0 4.2 0a2.1 2.1 0 1 0 -4.2 0M122.76 262.85a2.1 2.1 0 1 0 4.2 0a2.1 2.1 0 1 0 -4.2 0M123.78 262.85a2.1 2.1 0 1 0 4.2 0a2.1 2.1 0 1 0 -4.2 0M124.79 262.85a2.1 2.1 0 1 0 4.2 0a2.1 2.1 0 1 0 -4.2 0M125.81 259.56a2.1 2.1 0 1 0 4.2 0a2.1 2.1 0 1 0 -4.2 0M126.83 262.85a2.1 2.1 0 1 0 4.2 0a2.1 2.1 0 1 0 -4.2 0M127.84 262.85a2.1 2.1 0 1 0 4.2 0a2.1 2.1 0 1 0 -4.2 0M128.86 262.85a2.1 2.1 0 1 0 4.2 0a2.1 2.1 0 1 0 -4.2 0M129.88 262.85a2.1 2.1 0 1 0 4.2 0a2.1 2.1 0 1 0 -4.2 0M130.89 262.85a2.1 2.1 0 1 0 4.2 0a2.1 2.1 0 1 0 -4.2 0M131.91 262.85a2.1 2.1 0 1 0 4.2 0a2.1 2.1 0 1 0 -4.2 0M132.93 262.85a2.1 2.1 0 1 0 4.2 0a2.1 2.1 0 1 0 -4.2 0M133.94 262.85a2.1 2.1 0 1 0 4.2 0a2.1 2.1 0 1 0 -4.2 0M134.96 262.85a2.1 2.1 0 1 0 4.2 0a2.1 2.1 0 1 0 -4.2 0M135.98 262.85a2.1 2.1 0 1 0 4.2 0a2.1 2.1 0 1 0 -4.2 0M136.99 262.85a2.1 2.1 0 1 0 4.2 0a2.1 2.1 0 1 0 -4.2 0M138.01 262.85a2.1 2.1 0 1 0 4.2 0a2.1 2.1 0 1 0 -4.2 0M139.03 262.85a2.1 2.1 0 1 0 4.2 0a2.1 2.1 0 1 0 -4.2 0M140.04 262.85a2.1 2.1 0 1 0 4.2 0a2.1 2.1 0 1 0 -4.2 0M141.06 262.85a2.1 2.1 0 1 0 4.2 0a2.1 2.1 0 1 0 -4.2 0M142.08 262.85a2.1 2.1 0 1 0 4.2 0a2.1 2.1 0 1 0 -4.2 0M143.1 262.85a2.1 2.1 0 1 0 4.2 0a2.1 2.1 0 1 0 -4.2 0M144.11 262.85a2.1 2.1 0 1 0 4.2 0a2.1 2.1 0 1 0 -4.2 0M145.13 262.85a2.1 2.1 0 1 0 4.2 0a2.1 2.1 0 1 0 -4.2 0M146.15 262.85a2.1 2.1 0 1 0 4.2 0a2.1 2.1 0 1 0 -4.2 0M147.16 262.85a2.1 2.1 0 1 0 4.2 0a2.1 2.1 0 1 0 -4.2 0M148.18 262.85a2.1 2.1 0 1 0 4.2 0a2.1 2.1 0 1 0 -4.2 0M149.2 262.85a2.1 2.1 0 1 0 4.2 0a2.1 2.1 0 1 0 -4.2 0M150.21 262.85a2.1 2.1 0 1 0 4.2 0a2.1 2.1 0 1 0 -4.2 0M151.23 262.85a2.1 2.1 0 1 0 4.2 0a2.1 2.1 0 1 0 -4.2 0M152.25 262.85a2.1 2.1 0 1 0 4.2 0a2.1 2.1 0 1 0 -4.2 0M153.26 262.85a2.1 2.1 0 1 0 4.2 0a2.1 2.1 0 1 0 -4.2 0M154.28 262.85a2.1 2.1 0 1 0 4.2 0a2.1 2.1 0 1 0 -4.2 0M155.3 262.85a2.1 2.1 0 1 0 4.2 0a2.1 2.1 0 1 0 -4.2 0M156.31 262.85a2.1 2.1 0 1 0 4.2 0a2.1 2.1 0 1 0 -4.2 0M157.33 262.85a2.1 2.1 0 1 0 4.2 0a2.1 2.1 0 1 0 -4.2 0M158.35 262.85a2.1 2.1 0 1 0 4.2 0a2.1 2.1 0 1 0 -4.2 0M159.36 262.85a2.1 2.1 0 1 0 4.2 0a2.1 2.1 0 1 0 -4.2 0M160.38 262.85a2.1 2.1 0 1 0 4.2 0a2.1 2.1 0 1 0 -4.2 0M161.4 262.85a2.1 2.1 0 1 0 4.2 0a2.1 2.1 0 1 0 -4.2 0M162.41 262.85a2.1 2.1 0 1 0 4.2 0a2.1 2.1 0 1 0 -4.2 0M163.43 262.85a2.1 2.1 0 1 0 4.2 0a2.1 2.1 0 1 0 -4.2 0M164.45 262.85a2.1 2.1 0 1 0 4.2 0a2.1 2.1 0 1 0 -4.2 0M165.46 262.85a2.1 2.1 0 1 0 4.2 0a2.1 2.1 0 1 0 -4.2 0M166.48 262.85a2.1 2.1 0 1 0 4.2 0a2.1 2.1 0 1 0 -4.2 0M167.5 262.85a2.1 2.1 0 1 0 4.2 0a2.1 2.1 0 1 0 -4.2 0M168.52 262.85a2.1 2.1 0 1 0 4.2 0a2.1 2.1 0 1 0 -4.2 0M169.53 262.85a2.1 2.1 0 1 0 4.2 0a2.1 2.1 0 1 0 -4.2 0M170.55 262.85a2.1 2.1 0 1 0 4.2 0a2.1 2.1 0 1 0 -4.2 0M171.57 262.85a2.1 2.1 0 1 0 4.2 0a2.1 2.1 0 1 0 -4.2 0M172.58 262.85a2.1 2.1 0 1 0 4.2 0a2.1 2.1 0 1 0 -4.2 0M173.6 262.85a2.1 2.1 0 1 0 4.2 0a2.1 2.1 0 1 0 -4.2 0M174.62 262.85a2.1 2.1 0 1 0 4.2 0a2.1 2.1 0 1 0 -4.2 0M175.63 262.85a2.1 2.1 0 1 0 4.2 0a2.1 2.1 0 1 0 -4.2 0M176.65 262.85a2.1 2.1 0 1 0 4.2 0a2.1 2.1 0 1 0 -4.2 0M177.67 262.85a2.1 2.1 0 1 0 4.2 0a2.1 2.1 0 1 0 -4.2 0M178.68 262.85a2.1 2.1 0 1 0 4.2 0a2.1 2.1 0 1 0 -4.2 0M179.7 262.85a2.1 2.1 0 1 0 4.2 0a2.1 2.1 0 1 0 -4.2 0M180.72 262.85a2.1 2.1 0 1 0 4.2 0a2.1 2.1 0 1 0 -4.2 0M181.73 262.85a2.1 2.1 0 1 0 4.2 0a2.1 2.1 0 1 0 -4.2 0M182.75 262.85a2.1 2.1 0 1 0 4.2 0a2.1 2.1 0 1 0 -4.2 0M183.77 262.85a2.1 2.1 0 1 0 4.2 0a2.1 2.1 0 1 0 -4.2 0M184.78 262.85a2.1 2.1 0 1 0 4.2 0a2.1 2.1 0 1 0 -4.2 0M185.8 262.85a2.1 2.1 0 1 0 4.2 0a2.1 2.1 0 1 0 -4.2 0M186.82 262.85a2.1 2.1 0 1 0 4.2 0a2.1 2.1 0 1 0 -4.2 0M187.83 262.85a2.1 2.1 0 1 0 4.2 0a2.1 2.1 0 1 0 -4.2 0M188.85 262.85a2.1 2.1 0 1 0 4.2 0a2.1 2.1 0 1 0 -4.2 0M189.87 262.85a2.1 2.1 0 1 0 4.2 0a2.1 2.1 0 1 0 -4.2 0M190.88 262.85a2.1 2.1 0 1 0 4.2 0a2.1 2.1 0 1 0 -4.2 0M191.9 262.85a2.1 2.1 0 1 0 4.2 0a2.1 2.1 0 1 0 -4.2 0M192.92 262.85a2.1 2.1 0 1 0 4.2 0a2.1 2.1 0 1 0 -4.2 0M193.94 262.85a2.1 2.1 0 1 0 4.2 0a2.1 2.1 0 1 0 -4.2 0M194.95 261.75a2.1 2.1 0 1 0 4.2 0a2.1 2.1 0 1 0 -4.2 0M195.97 262.85a2.1 2.1 0 1 0 4.2 0a2.1 2.1 0 1 0 -4.2 0M196.99 262.85a2.1 2.1 0 1 0 4.2 0a2.1 2.1 0 1 0 -4.2 0M198 262.85a2.1 2.1 0 1 0 4.2 0a2.1 2.1 0 1 0 -4.2 0M199.02 262.85a2.1 2.1 0 1 0 4.2 0a2.1 2.1 0 1 0 -4.2 0M200.04 262.85a2.1 2.1 0 1 0 4.2 0a2.1 2.1 0 1 0 -4.2 0M201.05 262.85a2.1 2.1 0 1 0 4.2 0a2.1 2.1 0 1 0 -4.2 0M202.07 262.85a2.1 2.1 0 1 0 4.2 0a2.1 2.1 0 1 0 -4.2 0M203.09 262.85a2.1 2.1 0 1 0 4.2 0a2.1 2.1 0 1 0 -4.2 0M204.1 262.85a2.1 2.1 0 1 0 4.2 0a2.1 2.1 0 1 0 -4.2 0M205.12 262.85a2.1 2.1 0 1 0 4.2 0a2.1 2.1 0 1 0 -4.2 0M206.14 262.85a2.1 2.1 0 1 0 4.2 0a2.1 2.1 0 1 0 -4.2 0M207.15 262.85a2.1 2.1 0 1 0 4.2 0a2.1 2.1 0 1 0 -4.2 0M208.17 262.85a2.1 2.1 0 1 0 4.2 0a2.1 2.1 0 1 0 -4.2 0M209.19 262.85a2.1 2.1 0 1 0 4.2 0a2.1 2.1 0 1 0 -4.2 0M210.2 262.85a2.1 2.1 0 1 0 4.2 0a2.1 2.1 0 1 0 -4.2 0M211.22 262.85a2.1 2.1 0 1 0 4.2 0a2.1 2.1 0 1 0 -4.2 0M212.24 262.85a2.1 2.1 0 1 0 4.2 0a2.1 2.1 0 1 0 -4.2 0M213.25 262.85a2.1 2.1 0 1 0 4.2 0a2.1 2.1 0 1 0 -4.2 0M214.27 262.85a2.1 2.1 0 1 0 4.2 0a2.1 2.1 0 1 0 -4.2 0M215.29 262.85a2.1 2.1 0 1 0 4.2 0a2.1 2.1 0 1 0 -4.2 0M216.3 262.85a2.1 2.1 0 1 0 4.2 0a2.1 2.1 0 1 0 -4.2 0M217.32 262.85a2.1 2.1 0 1 0 4.2 0a2.1 2.1 0 1 0 -4.2 0M218.34 262.85a2.1 2.1 0 1 0 4.2 0a2.1 2.1 0 1 0 -4.2 0M219.36 262.85a2.1 2.1 0 1 0 4.2 0a2.1 2.1 0 1 0 -4.2 0M220.37 262.85a2.1 2.1 0 1 0 4.2 0a2.1 2.1 0 1 0 -4.2 0M221.39 262.85a2.1 2.1 0 1 0 4.2 0a2.1 2.1 0 1 0 -4.2 0M222.41 262.85a2.1 2.1 0 1 0 4.2 0a2.1 2.1 0 1 0 -4.2 0M223.42 262.85a2.1 2.1 0 1 0 4.2 0a2.1 2.1 0 1 0 -4.2 0M224.44 262.85a2.1 2.1 0 1 0 4.2 0a2.1 2.1 0 1 0 -4.2 0M225.46 262.85a2.1 2.1 0 1 0 4.2 0a2.1 2.1 0 1 0 -4.2 0M226.47 262.85a2.1 2.1 0 1 0 4.2 0a2.1 2.1 0 1 0 -4.2 0M227.49 262.85a2.1 2.1 0 1 0 4.2 0a2.1 2.1 0 1 0 -4.2 0M228.51 262.85a2.1 2.1 0 1 0 4.2 0a2.1 2.1 0 1 0 -4.2 0M229.52 262.85a2.1 2.1 0 1 0 4.2 0a2.1 2.1 0 1 0 -4.2 0M230.54 262.85a2.1 2.1 0 1 0 4.2 0a2.1 2.1 0 1 0 -4.2 0M231.56 262.85a2.1 2.1 0 1 0 4.2 0a2.1 2.1 0 1 0 -4.2 0M232.57 262.85a2.1 2.1 0 1 0 4.2 0a2.1 2.1 0 1 0 -4.2 0M233.59 262.85a2.1 2.1 0 1 0 4.2 0a2.1 2.1 0 1 0 -4.2 0M234.61 262.85a2.1 2.1 0 1 0 4.2 0a2.1 2.1 0 1 0 -4.2 0M235.62 262.85a2.1 2.1 0 1 0 4.2 0a2.1 2.1 0 1 0 -4.2 0M236.64 262.85a2.1 2.1 0 1 0 4.2 0a2.1 2.1 0 1 0 -4.2 0M237.66 262.85a2.1 2.1 0 1 0 4.2 0a2.1 2.1 0 1 0 -4.2 0M238.67 262.85a2.1 2.1 0 1 0 4.2 0a2.1 2.1 0 1 0 -4.2 0M239.69 262.85a2.1 2.1 0 1 0 4.2 0a2.1 2.1 0 1 0 -4.2 0M240.71 262.85a2.1 2.1 0 1 0 4.2 0a2.1 2.1 0 1 0 -4.2 0M241.72 262.85a2.1 2.1 0 1 0 4.2 0a2.1 2.1 0 1 0 -4.2 0M242.74 262.85a2.1 2.1 0 1 0 4.2 0a2.1 2.1 0 1 0 -4.2 0M243.76 261.75a2.1 2.1 0 1 0 4.2 0a2.1 2.1 0 1 0 -4.2 0M244.78 262.85a2.1 2.1 0 1 0 4.2 0a2.1 2.1 0 1 0 -4.2 0M245.79 262.85a2.1 2.1 0 1 0 4.2 0a2.1 2.1 0 1 0 -4.2 0M246.81 262.85a2.1 2.1 0 1 0 4.2 0a2.1 2.1 0 1 0 -4.2 0M247.83 262.85a2.1 2.1 0 1 0 4.2 0a2.1 2.1 0 1 0 -4.2 0M248.84 262.85a2.1 2.1 0 1 0 4.2 0a2.1 2.1 0 1 0 -4.2 0M249.86 262.85a2.1 2.1 0 1 0 4.2 0a2.1 2.1 0 1 0 -4.2 0M250.88 262.85a2.1 2.1 0 1 0 4.2 0a2.1 2.1 0 1 0 -4.2 0M251.89 262.85a2.1 2.1 0 1 0 4.2 0a2.1 2.1 0 1 0 -4.2 0M252.91 262.85a2.1 2.1 0 1 0 4.2 0a2.1 2.1 0 1 0 -4.2 0M253.93 262.85a2.1 2.1 0 1 0 4.2 0a2.1 2.1 0 1 0 -4.2 0M254.94 262.85a2.1 2.1 0 1 0 4.2 0a2.1 2.1 0 1 0 -4.2 0M255.96 262.85a2.1 2.1 0 1 0 4.2 0a2.1 2.1 0 1 0 -4.2 0M256.98 262.85a2.1 2.1 0 1 0 4.2 0a2.1 2.1 0 1 0 -4.2 0M257.99 262.85a2.1 2.1 0 1 0 4.2 0a2.1 2.1 0 1 0 -4.2 0M259.01 262.85a2.1 2.1 0 1 0 4.2 0a2.1 2.1 0 1 0 -4.2 0M260.03 262.85a2.1 2.1 0 1 0 4.2 0a2.1 2.1 0 1 0 -4.2 0M261.04 262.85a2.1 2.1 0 1 0 4.2 0a2.1 2.1 0 1 0 -4.2 0M262.06 262.85a2.1 2.1 0 1 0 4.2 0a2.1 2.1 0 1 0 -4.2 0M263.08 262.85a2.1 2.1 0 1 0 4.2 0a2.1 2.1 0 1 0 -4.2 0M264.09 262.85a2.1 2.1 0 1 0 4.2 0a2.1 2.1 0 1 0 -4.2 0M265.11 262.85a2.1 2.1 0 1 0 4.2 0a2.1 2.1 0 1 0 -4.2 0M266.13 262.85a2.1 2.1 0 1 0 4.2 0a2.1 2.1 0 1 0 -4.2 0M267.14 262.85a2.1 2.1 0 1 0 4.2 0a2.1 2.1 0 1 0 -4.2 0M268.16 262.85a2.1 2.1 0 1 0 4.2 0a2.1 2.1 0 1 0 -4.2 0M269.18 262.85a2.1 2.1 0 1 0 4.2 0a2.1 2.1 0 1 0 -4.2 0M270.2 262.85a2.1 2.1 0 1 0 4.2 0a2.1 2.1 0 1 0 -4.2 0M271.21 262.85a2.1 2.1 0 1 0 4.2 0a2.1 2.1 0 1 0 -4.2 0M272.23 262.85a2.1 2.1 0 1 0 4.2 0a2.1 2.1 0 1 0 -4.2 0M273.25 262.85a2.1 2.1 0 1 0 4.2 0a2.1 2.1 0 1 0 -4.2 0M274.26 262.85a2.1 2.1 0 1 0 4.2 0a2.1 2.1 0 1 0 -4.2 0M275.28 262.85a2.1 2.1 0 1 0 4.2 0a2.1 2.1 0 1 0 -4.2 0M276.3 262.85a2.1 2.1 0 1 0 4.2 0a2.1 2.1 0 1 0 -4.2 0M277.31 262.85a2.1 2.1 0 1 0 4.2 0a2.1 2.1 0 1 0 -4.2 0M278.33 262.85a2.1 2.1 0 1 0 4.2 0a2.1 2.1 0 1 0 -4.2 0M279.35 262.85a2.1 2.1 0 1 0 4.2 0a2.1 2.1 0 1 0 -4.2 0M280.36 262.85a2.1 2.1 0 1 0 4.2 0a2.1 2.1 0 1 0 -4.2 0M281.38 262.85a2.1 2.1 0 1 0 4.2 0a2.1 2.1 0 1 0 -4.2 0M282.4 262.85a2.1 2.1 0 1 0 4.2 0a2.1 2.1 0 1 0 -4.2 0M283.41 262.85a2.1 2.1 0 1 0 4.2 0a2.1 2.1 0 1 0 -4.2 0M284.43 262.85a2.1 2.1 0 1 0 4.2 0a2.1 2.1 0 1 0 -4.2 0M285.45 262.85a2.1 2.1 0 1 0 4.2 0a2.1 2.1 0 1 0 -4.2 0M286.46 262.85a2.1 2.1 0 1 0 4.2 0a2.1 2.1 0 1 0 -4.2 0M287.48 262.85a2.1 2.1 0 1 0 4.2 0a2.1 2.1 0 1 0 -4.2 0M288.5 262.85a2.1 2.1 0 1 0 4.2 0a2.1 2.1 0 1 0 -4.2 0M289.51 262.85a2.1 2.1 0 1 0 4.2 0a2.1 2.1 0 1 0 -4.2 0M290.53 262.85a2.1 2.1 0 1 0 4.2 0a2.1 2.1 0 1 0 -4.2 0M291.55 262.85a2.1 2.1 0 1 0 4.2 0a2.1 2.1 0 1 0 -4.2 0M292.56 262.85a2.1 2.1 0 1 0 4.2 0a2.1 2.1 0 1 0 -4.2 0M293.58 262.85a2.1 2.1 0 1 0 4.2 0a2.1 2.1 0 1 0 -4.2 0M294.6 262.85a2.1 2.1 0 1 0 4.2 0a2.1 2.1 0 1 0 -4.2 0M295.62 262.85a2.1 2.1 0 1 0 4.2 0a2.1 2.1 0 1 0 -4.2 0M296.63 262.85a2.1 2.1 0 1 0 4.2 0a2.1 2.1 0 1 0 -4.2 0M297.65 262.85a2.1 2.1 0 1 0 4.2 0a2.1 2.1 0 1 0 -4.2 0M298.67 262.85a2.1 2.1 0 1 0 4.2 0a2.1 2.1 0 1 0 -4.2 0M299.68 262.85a2.1 2.1 0 1 0 4.2 0a2.1 2.1 0 1 0 -4.2 0M300.7 262.85a2.1 2.1 0 1 0 4.2 0a2.1 2.1 0 1 0 -4.2 0M301.72 262.85a2.1 2.1 0 1 0 4.2 0a2.1 2.1 0 1 0 -4.2 0M302.73 262.85a2.1 2.1 0 1 0 4.2 0a2.1 2.1 0 1 0 -4.2 0M303.75 262.85a2.1 2.1 0 1 0 4.2 0a2.1 2.1 0 1 0 -4.2 0M304.77 262.85a2.1 2.1 0 1 0 4.2 0a2.1 2.1 0 1 0 -4.2 0M305.78 262.85a2.1 2.1 0 1 0 4.2 0a2.1 2.1 0 1 0 -4.2 0M306.8 262.85a2.1 2.1 0 1 0 4.2 0a2.1 2.1 0 1 0 -4.2 0M307.82 262.85a2.1 2.1 0 1 0 4.2 0a2.1 2.1 0 1 0 -4.2 0M308.83 262.85a2.1 2.1 0 1 0 4.2 0a2.1 2.1 0 1 0 -4.2 0M309.85 262.85a2.1 2.1 0 1 0 4.2 0a2.1 2.1 0 1 0 -4.2 0M310.87 262.85a2.1 2.1 0 1 0 4.2 0a2.1 2.1 0 1 0 -4.2 0M311.88 262.85a2.1 2.1 0 1 0 4.2 0a2.1 2.1 0 1 0 -4.2 0M312.9 262.85a2.1 2.1 0 1 0 4.2 0a2.1 2.1 0 1 0 -4.2 0" stroke="#45488a" stroke-width="1.0" fill="none"/>
<path d="M56.3 262.85V227.53M57.6 262.85V198.43M58.7 262.85V221.49M60.1 262.85V197.52M62 262.85V198.25M57.6 262.85V250.04M60.3 262.85V250.04" stroke="none" stroke-width="0.9" fill="none"/>
<path d="M54.2 227.53a2.1 2.1 0 1 0 4.2 0a2.1 2.1 0 1 0 -4.2 0M55.5 198.43a2.1 2.1 0 1 0 4.2 0a2.1 2.1 0 1 0 -4.2 0M56.6 221.49a2.1 2.1 0 1 0 4.2 0a2.1 2.1 0 1 0 -4.2 0M58 197.52a2.1 2.1 0 1 0 4.2 0a2.1 2.1 0 1 0 -4.2 0M59.9 198.25a2.1 2.1 0 1 0 4.2 0a2.1 2.1 0 1 0 -4.2 0M55.5 250.04a2.1 2.1 0 1 0 4.2 0a2.1 2.1 0 1 0 -4.2 0M58.2 250.04a2.1 2.1 0 1 0 4.2 0a2.1 2.1 0 1 0 -4.2 0" stroke="#45488a" stroke-width="0.9" fill="none"/>
<path d="M141.5 261.75v2.2M158.7 261.75v2.2M175.9 261.75v2.2M193.1 261.75v2.2M210.3 261.75v2.2M227.5 261.75v2.2M244.7 261.75v2.2M261.9 261.75v2.2M279.1 261.75v2.2M296.3 261.75v2.2M313.5 261.75v2.2" stroke="#2a2d6c" stroke-width="1.6" fill="none"/>
<path d="M91.1 197.5V325.3" stroke="#e05555" stroke-width="1.7" stroke-dasharray="5 1.8" stroke-dashoffset="1.8"/>
<rect x="54.7" y="195.4" width="260.3" height="134.6" fill="none" stroke="#505050" stroke-width="1"/>
<path d="M54.7 330v-2.6M54.7 195.4v2.6M105.54 330v-2.6M105.54 195.4v2.6M156.38 330v-2.6M156.38 195.4v2.6M207.22 330v-2.6M207.22 195.4v2.6M258.06 330v-2.6M258.06 195.4v2.6M308.9 330v-2.6M308.9 195.4v2.6M54.7 317.75h2.6M315 317.75h-2.6M54.7 299.45h2.6M315 299.45h-2.6M54.7 281.15h2.6M315 281.15h-2.6M54.7 262.85h2.6M315 262.85h-2.6M54.7 244.55h2.6M315 244.55h-2.6M54.7 226.25h2.6M315 226.25h-2.6M54.7 207.95h2.6M315 207.95h-2.6" stroke="#505050" stroke-width="1" fill="none"/>
<text transform="translate(54.7 340.06) scale(0.93 1)" text-anchor="middle" class="t">0</text>
<text transform="translate(105.54 340.06) scale(0.93 1)" text-anchor="middle" class="t">50</text>
<text transform="translate(156.38 340.06) scale(0.93 1)" text-anchor="middle" class="t">100</text>
<text transform="translate(207.22 340.06) scale(0.93 1)" text-anchor="middle" class="t">150</text>
<text transform="translate(258.06 340.06) scale(0.93 1)" text-anchor="middle" class="t">200</text>
<text transform="translate(308.9 340.06) scale(0.93 1)" text-anchor="middle" class="t">250</text>
<text transform="translate(52.2 320.41) scale(0.93 1)" text-anchor="end" class="t">-1500</text>
<text transform="translate(52.2 302.11) scale(0.93 1)" text-anchor="end" class="t">-1000</text>
<text transform="translate(52.2 283.81) scale(0.93 1)" text-anchor="end" class="t">-500</text>
<text transform="translate(52.2 265.51) scale(0.93 1)" text-anchor="end" class="t">0</text>
<text transform="translate(52.2 247.21) scale(0.93 1)" text-anchor="end" class="t">500</text>
<text transform="translate(52.2 228.91) scale(0.93 1)" text-anchor="end" class="t">1000</text>
<text transform="translate(52.2 210.61) scale(0.93 1)" text-anchor="end" class="t">1500</text>
<text x="171.7" y="361.6" text-anchor="middle" class="cap">(b)</text>
</g>
<g>
<path d="M392.45 263.6H652.8" stroke="#6262a8" stroke-width="1"/>
<path d="M393.5 263.6V198.97M394.4 263.6V263.6M395.6 263.6V278.67M396.5 263.6V218.97M397.5 263.6V236.29M398.6 263.6V245.84M399.56 263.6V263.6M400.2 263.6V243.45M401.4 263.6V297.33M402.61 263.6V263.6M403.62 263.6V263.6M404.64 263.6V263.6M405.66 263.6V263.6M406.67 263.6V263.6M407.69 263.6V263.6M408.7 263.6V263.6M409.72 263.6V263.6M410.73 263.6V263.6M411.6 263.6V230.5M412.77 263.6V263.6M413.78 263.6V263.6M414.8 263.6V263.6M415.81 263.6V263.6M416.83 263.6V263.6M417.84 263.6V263.6M418.86 263.6V263.6M419.88 263.6V263.6M420.89 263.6V263.6M421.91 263.6V263.6M422.92 263.6V263.6M423.94 263.6V263.6M424.96 263.6V263.6M426.4 263.6V299.2M426.99 263.6V263.6M428 263.6V263.6M429.02 263.6V263.6M430.03 263.6V263.6M431.05 263.6V263.6M432.07 263.6V263.6M433.08 263.6V263.6M434.1 263.6V263.6M435.11 263.6V263.6M436.13 263.6V263.6M437.15 263.6V263.6M438.16 263.6V263.6M439.18 263.6V263.6M440.19 263.6V263.6M441.21 263.6V263.6M442.22 263.6V263.6M443.24 263.6V263.6M444.26 263.6V263.6M445.27 263.6V263.6M446.29 263.6V263.6M447.3 263.6V263.6M448.32 263.6V263.6M449.33 263.6V263.6M450.35 263.6V263.6M451.37 263.6V263.6M452.38 263.6V263.6M453.4 263.6V263.6M454.41 263.6V263.6M455.43 263.6V263.6M456.45 263.6V263.6M457.46 263.6V263.6M458.48 263.6V263.6M459.49 263.6V263.6M461 263.6V308.97M462.54 263.6V263.6M463.56 263.6V263.6M464.57 263.6V263.6M465.59 263.6V263.6M466.6 263.6V263.6M467.62 263.6V263.6M468.63 263.6V263.6M469.65 263.6V263.6M470.67 263.6V263.6M471.68 263.6V263.6M472.7 263.6V263.6M473.71 263.6V263.6M474.73 263.6V263.6M475.75 263.6V263.6M476.76 263.6V263.6M477.78 263.6V263.6M478.79 263.6V263.6M479.81 263.6V263.6M480.82 263.6V263.6M481.84 263.6V263.6M482.8 263.6V230.09M483.87 263.6V263.6M484.89 263.6V263.6M485.9 263.6V282.5M486.92 263.6V263.6M487.94 263.6V263.6M488.95 263.6V263.6M489.8 263.6V213.8M491.1 263.6V220.09M492 263.6V263.6M493.01 263.6V263.6M494.03 263.6V263.6M495.05 263.6V263.6M496.06 263.6V263.6M497.08 263.6V263.6M498.09 263.6V263.6M499.2 263.6V291.51M500.12 263.6V263.6M501.14 263.6V263.6M502.16 263.6V263.6M503.17 263.6V263.6M504.19 263.6V263.6M505.2 263.6V263.6M506.22 263.6V263.6M507.24 263.6V263.6M508.25 263.6V263.6M509.27 263.6V263.6M510.28 263.6V263.6M511.3 263.6V263.6M512.3 263.6V291.51M513.33 263.6V263.6M514.35 263.6V263.6M515.36 263.6V263.6M516.38 263.6V263.6M517.39 263.6V263.6M518.41 263.6V263.6M519.42 263.6V263.6M520.44 263.6V263.6M521.46 263.6V263.6M522.47 263.6V263.6M523.49 263.6V263.6M524.5 263.6V263.6M525.52 263.6V263.6M526.54 263.6V263.6M527.55 263.6V263.6M528.57 263.6V263.6M529.58 263.6V263.6M530.4 263.6V298.9M531.61 263.6V263.6M532.63 263.6V263.6M533.65 263.6V263.6M534.66 263.6V263.6M535.68 263.6V263.6M536.69 263.6V263.6M537.71 263.6V263.6M538.73 263.6V263.6M539.74 263.6V263.6M540.5 263.6V209.42M541.77 263.6V263.6M542.79 263.6V263.6M543.8 263.6V263.6M544.82 263.6V263.6M545.84 263.6V263.6M546.85 263.6V263.6M547.87 263.6V263.6M549 263.6V299.42M549.9 263.6V263.6M550.91 263.6V263.6M551.93 263.6V263.6M552.95 263.6V263.6M553.96 263.6V263.6M554.98 263.6V263.6M555.99 263.6V263.6M557.01 263.6V263.6M558.03 263.6V263.6M559.04 263.6V263.6M560.06 263.6V263.6M561.07 263.6V263.6M562.09 263.6V263.6M563.1 263.6V263.6M564.12 263.6V263.6M565.14 263.6V263.6M566.15 263.6V263.6M567.17 263.6V263.6M568.18 263.6V263.6M569.2 263.6V263.6M570.22 263.6V263.6M571.23 263.6V263.6M572.25 263.6V263.6M573.26 263.6V263.6M574.28 263.6V263.6M575.3 263.6V233.68M576.31 263.6V263.6M577.33 263.6V263.6M578.34 263.6V263.6M579.36 263.6V263.6M580.37 263.6V263.6M581.39 263.6V263.6M582.4 263.6V263.6M583.42 263.6V263.6M584.44 263.6V263.6M585.45 263.6V263.6M586.47 263.6V263.6M587.48 263.6V263.6M588.5 263.6V263.6M589.52 263.6V263.6M590.53 263.6V263.6M591.55 263.6V263.6M592.56 263.6V263.6M593.58 263.6V263.6M594.59 263.6V263.6M595.61 263.6V263.6M596.63 263.6V263.6M597.64 263.6V263.6M598.66 263.6V263.6M599.67 263.6V263.6M600.69 263.6V263.6M601.7 263.6V263.6M602.72 263.6V263.6M603.74 263.6V263.6M604.75 263.6V263.6M605.77 263.6V263.6M606.78 263.6V263.6M607.8 263.6V263.6M608.82 263.6V263.6M609.83 263.6V263.6M610.85 263.6V263.6M611.86 263.6V263.6M612.88 263.6V263.6M613.89 263.6V263.6M614.91 263.6V263.6M615.93 263.6V263.6M616.94 263.6V263.6M617.96 263.6V263.6M618.97 263.6V263.6M619.99 263.6V263.6M621 263.6V263.6M622.02 263.6V263.6M623.04 263.6V263.6M624.05 263.6V263.6M625.07 263.6V263.6M626.08 263.6V263.6M627.1 263.6V263.6M628.12 263.6V263.6M629.13 263.6V263.6M630.15 263.6V263.6M631.16 263.6V263.6M632.1 263.6V232.9M633.19 263.6V263.6M634.21 263.6V263.6M635.23 263.6V263.6M636.24 263.6V263.6M637.26 263.6V263.6M638.27 263.6V263.6M639.4 263.6V293.7M640.31 263.6V263.6M641.32 263.6V263.6M642.34 263.6V263.6M643.35 263.6V263.6M644.37 263.6V263.6M645.1 263.6V293.2M646.4 263.6V263.6M647.42 263.6V263.6M648.43 263.6V263.6M649.45 263.6V263.6M650.46 263.6V263.6M651.48 263.6V263.6M652.49 263.6V263.6" stroke="#6262a8" stroke-width="0.9" fill="none"/>
<path d="M391.4 198.97a2.1 2.1 0 1 0 4.2 0a2.1 2.1 0 1 0 -4.2 0M392.3 263.6a2.1 2.1 0 1 0 4.2 0a2.1 2.1 0 1 0 -4.2 0M393.5 278.67a2.1 2.1 0 1 0 4.2 0a2.1 2.1 0 1 0 -4.2 0M394.4 218.97a2.1 2.1 0 1 0 4.2 0a2.1 2.1 0 1 0 -4.2 0M395.4 236.29a2.1 2.1 0 1 0 4.2 0a2.1 2.1 0 1 0 -4.2 0M396.5 245.84a2.1 2.1 0 1 0 4.2 0a2.1 2.1 0 1 0 -4.2 0M397.46 263.6a2.1 2.1 0 1 0 4.2 0a2.1 2.1 0 1 0 -4.2 0M398.1 243.45a2.1 2.1 0 1 0 4.2 0a2.1 2.1 0 1 0 -4.2 0M399.3 297.33a2.1 2.1 0 1 0 4.2 0a2.1 2.1 0 1 0 -4.2 0M400.51 263.6a2.1 2.1 0 1 0 4.2 0a2.1 2.1 0 1 0 -4.2 0M401.52 263.6a2.1 2.1 0 1 0 4.2 0a2.1 2.1 0 1 0 -4.2 0M402.54 263.6a2.1 2.1 0 1 0 4.2 0a2.1 2.1 0 1 0 -4.2 0M403.56 263.6a2.1 2.1 0 1 0 4.2 0a2.1 2.1 0 1 0 -4.2 0M404.57 263.6a2.1 2.1 0 1 0 4.2 0a2.1 2.1 0 1 0 -4.2 0M405.59 263.6a2.1 2.1 0 1 0 4.2 0a2.1 2.1 0 1 0 -4.2 0M406.6 263.6a2.1 2.1 0 1 0 4.2 0a2.1 2.1 0 1 0 -4.2 0M407.62 263.6a2.1 2.1 0 1 0 4.2 0a2.1 2.1 0 1 0 -4.2 0M408.63 263.6a2.1 2.1 0 1 0 4.2 0a2.1 2.1 0 1 0 -4.2 0M409.5 230.5a2.1 2.1 0 1 0 4.2 0a2.1 2.1 0 1 0 -4.2 0M410.67 263.6a2.1 2.1 0 1 0 4.2 0a2.1 2.1 0 1 0 -4.2 0M411.68 263.6a2.1 2.1 0 1 0 4.2 0a2.1 2.1 0 1 0 -4.2 0M412.7 263.6a2.1 2.1 0 1 0 4.2 0a2.1 2.1 0 1 0 -4.2 0M413.71 263.6a2.1 2.1 0 1 0 4.2 0a2.1 2.1 0 1 0 -4.2 0M414.73 263.6a2.1 2.1 0 1 0 4.2 0a2.1 2.1 0 1 0 -4.2 0M415.74 263.6a2.1 2.1 0 1 0 4.2 0a2.1 2.1 0 1 0 -4.2 0M416.76 263.6a2.1 2.1 0 1 0 4.2 0a2.1 2.1 0 1 0 -4.2 0M417.78 263.6a2.1 2.1 0 1 0 4.2 0a2.1 2.1 0 1 0 -4.2 0M418.79 263.6a2.1 2.1 0 1 0 4.2 0a2.1 2.1 0 1 0 -4.2 0M419.81 263.6a2.1 2.1 0 1 0 4.2 0a2.1 2.1 0 1 0 -4.2 0M420.82 263.6a2.1 2.1 0 1 0 4.2 0a2.1 2.1 0 1 0 -4.2 0M421.84 263.6a2.1 2.1 0 1 0 4.2 0a2.1 2.1 0 1 0 -4.2 0M422.86 263.6a2.1 2.1 0 1 0 4.2 0a2.1 2.1 0 1 0 -4.2 0M424.3 299.2a2.1 2.1 0 1 0 4.2 0a2.1 2.1 0 1 0 -4.2 0M424.89 263.6a2.1 2.1 0 1 0 4.2 0a2.1 2.1 0 1 0 -4.2 0M425.9 263.6a2.1 2.1 0 1 0 4.2 0a2.1 2.1 0 1 0 -4.2 0M426.92 263.6a2.1 2.1 0 1 0 4.2 0a2.1 2.1 0 1 0 -4.2 0M427.93 263.6a2.1 2.1 0 1 0 4.2 0a2.1 2.1 0 1 0 -4.2 0M428.95 263.6a2.1 2.1 0 1 0 4.2 0a2.1 2.1 0 1 0 -4.2 0M429.97 263.6a2.1 2.1 0 1 0 4.2 0a2.1 2.1 0 1 0 -4.2 0M430.98 263.6a2.1 2.1 0 1 0 4.2 0a2.1 2.1 0 1 0 -4.2 0M432 263.6a2.1 2.1 0 1 0 4.2 0a2.1 2.1 0 1 0 -4.2 0M433.01 263.6a2.1 2.1 0 1 0 4.2 0a2.1 2.1 0 1 0 -4.2 0M434.03 263.6a2.1 2.1 0 1 0 4.2 0a2.1 2.1 0 1 0 -4.2 0M435.05 263.6a2.1 2.1 0 1 0 4.2 0a2.1 2.1 0 1 0 -4.2 0M436.06 263.6a2.1 2.1 0 1 0 4.2 0a2.1 2.1 0 1 0 -4.2 0M437.08 263.6a2.1 2.1 0 1 0 4.2 0a2.1 2.1 0 1 0 -4.2 0M438.09 263.6a2.1 2.1 0 1 0 4.2 0a2.1 2.1 0 1 0 -4.2 0M439.11 263.6a2.1 2.1 0 1 0 4.2 0a2.1 2.1 0 1 0 -4.2 0M440.12 263.6a2.1 2.1 0 1 0 4.2 0a2.1 2.1 0 1 0 -4.2 0M441.14 263.6a2.1 2.1 0 1 0 4.2 0a2.1 2.1 0 1 0 -4.2 0M442.16 263.6a2.1 2.1 0 1 0 4.2 0a2.1 2.1 0 1 0 -4.2 0M443.17 263.6a2.1 2.1 0 1 0 4.2 0a2.1 2.1 0 1 0 -4.2 0M444.19 263.6a2.1 2.1 0 1 0 4.2 0a2.1 2.1 0 1 0 -4.2 0M445.2 263.6a2.1 2.1 0 1 0 4.2 0a2.1 2.1 0 1 0 -4.2 0M446.22 263.6a2.1 2.1 0 1 0 4.2 0a2.1 2.1 0 1 0 -4.2 0M447.23 263.6a2.1 2.1 0 1 0 4.2 0a2.1 2.1 0 1 0 -4.2 0M448.25 263.6a2.1 2.1 0 1 0 4.2 0a2.1 2.1 0 1 0 -4.2 0M449.27 263.6a2.1 2.1 0 1 0 4.2 0a2.1 2.1 0 1 0 -4.2 0M450.28 263.6a2.1 2.1 0 1 0 4.2 0a2.1 2.1 0 1 0 -4.2 0M451.3 263.6a2.1 2.1 0 1 0 4.2 0a2.1 2.1 0 1 0 -4.2 0M452.31 263.6a2.1 2.1 0 1 0 4.2 0a2.1 2.1 0 1 0 -4.2 0M453.33 263.6a2.1 2.1 0 1 0 4.2 0a2.1 2.1 0 1 0 -4.2 0M454.35 263.6a2.1 2.1 0 1 0 4.2 0a2.1 2.1 0 1 0 -4.2 0M455.36 263.6a2.1 2.1 0 1 0 4.2 0a2.1 2.1 0 1 0 -4.2 0M456.38 263.6a2.1 2.1 0 1 0 4.2 0a2.1 2.1 0 1 0 -4.2 0M457.39 263.6a2.1 2.1 0 1 0 4.2 0a2.1 2.1 0 1 0 -4.2 0M458.9 308.97a2.1 2.1 0 1 0 4.2 0a2.1 2.1 0 1 0 -4.2 0M460.44 263.6a2.1 2.1 0 1 0 4.2 0a2.1 2.1 0 1 0 -4.2 0M461.46 263.6a2.1 2.1 0 1 0 4.2 0a2.1 2.1 0 1 0 -4.2 0M462.47 263.6a2.1 2.1 0 1 0 4.2 0a2.1 2.1 0 1 0 -4.2 0M463.49 263.6a2.1 2.1 0 1 0 4.2 0a2.1 2.1 0 1 0 -4.2 0M464.5 263.6a2.1 2.1 0 1 0 4.2 0a2.1 2.1 0 1 0 -4.2 0M465.52 263.6a2.1 2.1 0 1 0 4.2 0a2.1 2.1 0 1 0 -4.2 0M466.53 263.6a2.1 2.1 0 1 0 4.2 0a2.1 2.1 0 1 0 -4.2 0M467.55 263.6a2.1 2.1 0 1 0 4.2 0a2.1 2.1 0 1 0 -4.2 0M468.57 263.6a2.1 2.1 0 1 0 4.2 0a2.1 2.1 0 1 0 -4.2 0M469.58 263.6a2.1 2.1 0 1 0 4.2 0a2.1 2.1 0 1 0 -4.2 0M470.6 263.6a2.1 2.1 0 1 0 4.2 0a2.1 2.1 0 1 0 -4.2 0M471.61 263.6a2.1 2.1 0 1 0 4.2 0a2.1 2.1 0 1 0 -4.2 0M472.63 263.6a2.1 2.1 0 1 0 4.2 0a2.1 2.1 0 1 0 -4.2 0M473.65 263.6a2.1 2.1 0 1 0 4.2 0a2.1 2.1 0 1 0 -4.2 0M474.66 263.6a2.1 2.1 0 1 0 4.2 0a2.1 2.1 0 1 0 -4.2 0M475.68 263.6a2.1 2.1 0 1 0 4.2 0a2.1 2.1 0 1 0 -4.2 0M476.69 263.6a2.1 2.1 0 1 0 4.2 0a2.1 2.1 0 1 0 -4.2 0M477.71 263.6a2.1 2.1 0 1 0 4.2 0a2.1 2.1 0 1 0 -4.2 0M478.72 263.6a2.1 2.1 0 1 0 4.2 0a2.1 2.1 0 1 0 -4.2 0M479.74 263.6a2.1 2.1 0 1 0 4.2 0a2.1 2.1 0 1 0 -4.2 0M480.7 230.09a2.1 2.1 0 1 0 4.2 0a2.1 2.1 0 1 0 -4.2 0M481.77 263.6a2.1 2.1 0 1 0 4.2 0a2.1 2.1 0 1 0 -4.2 0M482.79 263.6a2.1 2.1 0 1 0 4.2 0a2.1 2.1 0 1 0 -4.2 0M483.8 282.5a2.1 2.1 0 1 0 4.2 0a2.1 2.1 0 1 0 -4.2 0M484.82 263.6a2.1 2.1 0 1 0 4.2 0a2.1 2.1 0 1 0 -4.2 0M485.84 263.6a2.1 2.1 0 1 0 4.2 0a2.1 2.1 0 1 0 -4.2 0M486.85 263.6a2.1 2.1 0 1 0 4.2 0a2.1 2.1 0 1 0 -4.2 0M487.7 213.8a2.1 2.1 0 1 0 4.2 0a2.1 2.1 0 1 0 -4.2 0M489 220.09a2.1 2.1 0 1 0 4.2 0a2.1 2.1 0 1 0 -4.2 0M489.9 263.6a2.1 2.1 0 1 0 4.2 0a2.1 2.1 0 1 0 -4.2 0M490.91 263.6a2.1 2.1 0 1 0 4.2 0a2.1 2.1 0 1 0 -4.2 0M491.93 263.6a2.1 2.1 0 1 0 4.2 0a2.1 2.1 0 1 0 -4.2 0M492.95 263.6a2.1 2.1 0 1 0 4.2 0a2.1 2.1 0 1 0 -4.2 0M493.96 263.6a2.1 2.1 0 1 0 4.2 0a2.1 2.1 0 1 0 -4.2 0M494.98 263.6a2.1 2.1 0 1 0 4.2 0a2.1 2.1 0 1 0 -4.2 0M495.99 263.6a2.1 2.1 0 1 0 4.2 0a2.1 2.1 0 1 0 -4.2 0M497.1 291.51a2.1 2.1 0 1 0 4.2 0a2.1 2.1 0 1 0 -4.2 0M498.02 263.6a2.1 2.1 0 1 0 4.2 0a2.1 2.1 0 1 0 -4.2 0M499.04 263.6a2.1 2.1 0 1 0 4.2 0a2.1 2.1 0 1 0 -4.2 0M500.06 263.6a2.1 2.1 0 1 0 4.2 0a2.1 2.1 0 1 0 -4.2 0M501.07 263.6a2.1 2.1 0 1 0 4.2 0a2.1 2.1 0 1 0 -4.2 0M502.09 263.6a2.1 2.1 0 1 0 4.2 0a2.1 2.1 0 1 0 -4.2 0M503.1 263.6a2.1 2.1 0 1 0 4.2 0a2.1 2.1 0 1 0 -4.2 0M504.12 263.6a2.1 2.1 0 1 0 4.2 0a2.1 2.1 0 1 0 -4.2 0M505.14 263.6a2.1 2.1 0 1 0 4.2 0a2.1 2.1 0 1 0 -4.2 0M506.15 263.6a2.1 2.1 0 1 0 4.2 0a2.1 2.1 0 1 0 -4.2 0M507.17 263.6a2.1 2.1 0 1 0 4.2 0a2.1 2.1 0 1 0 -4.2 0M508.18 263.6a2.1 2.1 0 1 0 4.2 0a2.1 2.1 0 1 0 -4.2 0M509.2 263.6a2.1 2.1 0 1 0 4.2 0a2.1 2.1 0 1 0 -4.2 0M510.2 291.51a2.1 2.1 0 1 0 4.2 0a2.1 2.1 0 1 0 -4.2 0M511.23 263.6a2.1 2.1 0 1 0 4.2 0a2.1 2.1 0 1 0 -4.2 0M512.25 263.6a2.1 2.1 0 1 0 4.2 0a2.1 2.1 0 1 0 -4.2 0M513.26 263.6a2.1 2.1 0 1 0 4.2 0a2.1 2.1 0 1 0 -4.2 0M514.28 263.6a2.1 2.1 0 1 0 4.2 0a2.1 2.1 0 1 0 -4.2 0M515.29 263.6a2.1 2.1 0 1 0 4.2 0a2.1 2.1 0 1 0 -4.2 0M516.31 263.6a2.1 2.1 0 1 0 4.2 0a2.1 2.1 0 1 0 -4.2 0M517.32 263.6a2.1 2.1 0 1 0 4.2 0a2.1 2.1 0 1 0 -4.2 0M518.34 263.6a2.1 2.1 0 1 0 4.2 0a2.1 2.1 0 1 0 -4.2 0M519.36 263.6a2.1 2.1 0 1 0 4.2 0a2.1 2.1 0 1 0 -4.2 0M520.37 263.6a2.1 2.1 0 1 0 4.2 0a2.1 2.1 0 1 0 -4.2 0M521.39 263.6a2.1 2.1 0 1 0 4.2 0a2.1 2.1 0 1 0 -4.2 0M522.4 263.6a2.1 2.1 0 1 0 4.2 0a2.1 2.1 0 1 0 -4.2 0M523.42 263.6a2.1 2.1 0 1 0 4.2 0a2.1 2.1 0 1 0 -4.2 0M524.44 263.6a2.1 2.1 0 1 0 4.2 0a2.1 2.1 0 1 0 -4.2 0M525.45 263.6a2.1 2.1 0 1 0 4.2 0a2.1 2.1 0 1 0 -4.2 0M526.47 263.6a2.1 2.1 0 1 0 4.2 0a2.1 2.1 0 1 0 -4.2 0M527.48 263.6a2.1 2.1 0 1 0 4.2 0a2.1 2.1 0 1 0 -4.2 0M528.3 298.9a2.1 2.1 0 1 0 4.2 0a2.1 2.1 0 1 0 -4.2 0M529.51 263.6a2.1 2.1 0 1 0 4.2 0a2.1 2.1 0 1 0 -4.2 0M530.53 263.6a2.1 2.1 0 1 0 4.2 0a2.1 2.1 0 1 0 -4.2 0M531.55 263.6a2.1 2.1 0 1 0 4.2 0a2.1 2.1 0 1 0 -4.2 0M532.56 263.6a2.1 2.1 0 1 0 4.2 0a2.1 2.1 0 1 0 -4.2 0M533.58 263.6a2.1 2.1 0 1 0 4.2 0a2.1 2.1 0 1 0 -4.2 0M534.59 263.6a2.1 2.1 0 1 0 4.2 0a2.1 2.1 0 1 0 -4.2 0M535.61 263.6a2.1 2.1 0 1 0 4.2 0a2.1 2.1 0 1 0 -4.2 0M536.63 263.6a2.1 2.1 0 1 0 4.2 0a2.1 2.1 0 1 0 -4.2 0M537.64 263.6a2.1 2.1 0 1 0 4.2 0a2.1 2.1 0 1 0 -4.2 0M538.4 209.42a2.1 2.1 0 1 0 4.2 0a2.1 2.1 0 1 0 -4.2 0M539.67 263.6a2.1 2.1 0 1 0 4.2 0a2.1 2.1 0 1 0 -4.2 0M540.69 263.6a2.1 2.1 0 1 0 4.2 0a2.1 2.1 0 1 0 -4.2 0M541.7 263.6a2.1 2.1 0 1 0 4.2 0a2.1 2.1 0 1 0 -4.2 0M542.72 263.6a2.1 2.1 0 1 0 4.2 0a2.1 2.1 0 1 0 -4.2 0M543.74 263.6a2.1 2.1 0 1 0 4.2 0a2.1 2.1 0 1 0 -4.2 0M544.75 263.6a2.1 2.1 0 1 0 4.2 0a2.1 2.1 0 1 0 -4.2 0M545.77 263.6a2.1 2.1 0 1 0 4.2 0a2.1 2.1 0 1 0 -4.2 0M546.9 299.42a2.1 2.1 0 1 0 4.2 0a2.1 2.1 0 1 0 -4.2 0M547.8 263.6a2.1 2.1 0 1 0 4.2 0a2.1 2.1 0 1 0 -4.2 0M548.81 263.6a2.1 2.1 0 1 0 4.2 0a2.1 2.1 0 1 0 -4.2 0M549.83 263.6a2.1 2.1 0 1 0 4.2 0a2.1 2.1 0 1 0 -4.2 0M550.85 263.6a2.1 2.1 0 1 0 4.2 0a2.1 2.1 0 1 0 -4.2 0M551.86 263.6a2.1 2.1 0 1 0 4.2 0a2.1 2.1 0 1 0 -4.2 0M552.88 263.6a2.1 2.1 0 1 0 4.2 0a2.1 2.1 0 1 0 -4.2 0M553.89 263.6a2.1 2.1 0 1 0 4.2 0a2.1 2.1 0 1 0 -4.2 0M554.91 263.6a2.1 2.1 0 1 0 4.2 0a2.1 2.1 0 1 0 -4.2 0M555.93 263.6a2.1 2.1 0 1 0 4.2 0a2.1 2.1 0 1 0 -4.2 0M556.94 263.6a2.1 2.1 0 1 0 4.2 0a2.1 2.1 0 1 0 -4.2 0M557.96 263.6a2.1 2.1 0 1 0 4.2 0a2.1 2.1 0 1 0 -4.2 0M558.97 263.6a2.1 2.1 0 1 0 4.2 0a2.1 2.1 0 1 0 -4.2 0M559.99 263.6a2.1 2.1 0 1 0 4.2 0a2.1 2.1 0 1 0 -4.2 0M561 263.6a2.1 2.1 0 1 0 4.2 0a2.1 2.1 0 1 0 -4.2 0M562.02 263.6a2.1 2.1 0 1 0 4.2 0a2.1 2.1 0 1 0 -4.2 0M563.04 263.6a2.1 2.1 0 1 0 4.2 0a2.1 2.1 0 1 0 -4.2 0M564.05 263.6a2.1 2.1 0 1 0 4.2 0a2.1 2.1 0 1 0 -4.2 0M565.07 263.6a2.1 2.1 0 1 0 4.2 0a2.1 2.1 0 1 0 -4.2 0M566.08 263.6a2.1 2.1 0 1 0 4.2 0a2.1 2.1 0 1 0 -4.2 0M567.1 263.6a2.1 2.1 0 1 0 4.2 0a2.1 2.1 0 1 0 -4.2 0M568.12 263.6a2.1 2.1 0 1 0 4.2 0a2.1 2.1 0 1 0 -4.2 0M569.13 263.6a2.1 2.1 0 1 0 4.2 0a2.1 2.1 0 1 0 -4.2 0M570.15 263.6a2.1 2.1 0 1 0 4.2 0a2.1 2.1 0 1 0 -4.2 0M571.16 263.6a2.1 2.1 0 1 0 4.2 0a2.1 2.1 0 1 0 -4.2 0M572.18 263.6a2.1 2.1 0 1 0 4.2 0a2.1 2.1 0 1 0 -4.2 0M573.2 233.68a2.1 2.1 0 1 0 4.2 0a2.1 2.1 0 1 0 -4.2 0M574.21 263.6a2.1 2.1 0 1 0 4.2 0a2.1 2.1 0 1 0 -4.2 0M575.23 263.6a2.1 2.1 0 1 0 4.2 0a2.1 2.1 0 1 0 -4.2 0M576.24 263.6a2.1 2.1 0 1 0 4.2 0a2.1 2.1 0 1 0 -4.2 0M577.26 263.6a2.1 2.1 0 1 0 4.2 0a2.1 2.1 0 1 0 -4.2 0M578.27 263.6a2.1 2.1 0 1 0 4.2 0a2.1 2.1 0 1 0 -4.2 0M579.29 263.6a2.1 2.1 0 1 0 4.2 0a2.1 2.1 0 1 0 -4.2 0M580.3 263.6a2.1 2.1 0 1 0 4.2 0a2.1 2.1 0 1 0 -4.2 0M581.32 263.6a2.1 2.1 0 1 0 4.2 0a2.1 2.1 0 1 0 -4.2 0M582.34 263.6a2.1 2.1 0 1 0 4.2 0a2.1 2.1 0 1 0 -4.2 0M583.35 263.6a2.1 2.1 0 1 0 4.2 0a2.1 2.1 0 1 0 -4.2 0M584.37 263.6a2.1 2.1 0 1 0 4.2 0a2.1 2.1 0 1 0 -4.2 0M585.38 263.6a2.1 2.1 0 1 0 4.2 0a2.1 2.1 0 1 0 -4.2 0M586.4 263.6a2.1 2.1 0 1 0 4.2 0a2.1 2.1 0 1 0 -4.2 0M587.42 263.6a2.1 2.1 0 1 0 4.2 0a2.1 2.1 0 1 0 -4.2 0M588.43 263.6a2.1 2.1 0 1 0 4.2 0a2.1 2.1 0 1 0 -4.2 0M589.45 263.6a2.1 2.1 0 1 0 4.2 0a2.1 2.1 0 1 0 -4.2 0M590.46 263.6a2.1 2.1 0 1 0 4.2 0a2.1 2.1 0 1 0 -4.2 0M591.48 263.6a2.1 2.1 0 1 0 4.2 0a2.1 2.1 0 1 0 -4.2 0M592.49 263.6a2.1 2.1 0 1 0 4.2 0a2.1 2.1 0 1 0 -4.2 0M593.51 263.6a2.1 2.1 0 1 0 4.2 0a2.1 2.1 0 1 0 -4.2 0M594.53 263.6a2.1 2.1 0 1 0 4.2 0a2.1 2.1 0 1 0 -4.2 0M595.54 263.6a2.1 2.1 0 1 0 4.2 0a2.1 2.1 0 1 0 -4.2 0M596.56 263.6a2.1 2.1 0 1 0 4.2 0a2.1 2.1 0 1 0 -4.2 0M597.57 263.6a2.1 2.1 0 1 0 4.2 0a2.1 2.1 0 1 0 -4.2 0M598.59 263.6a2.1 2.1 0 1 0 4.2 0a2.1 2.1 0 1 0 -4.2 0M599.6 263.6a2.1 2.1 0 1 0 4.2 0a2.1 2.1 0 1 0 -4.2 0M600.62 263.6a2.1 2.1 0 1 0 4.2 0a2.1 2.1 0 1 0 -4.2 0M601.64 263.6a2.1 2.1 0 1 0 4.2 0a2.1 2.1 0 1 0 -4.2 0M602.65 263.6a2.1 2.1 0 1 0 4.2 0a2.1 2.1 0 1 0 -4.2 0M603.67 263.6a2.1 2.1 0 1 0 4.2 0a2.1 2.1 0 1 0 -4.2 0M604.68 263.6a2.1 2.1 0 1 0 4.2 0a2.1 2.1 0 1 0 -4.2 0M605.7 263.6a2.1 2.1 0 1 0 4.2 0a2.1 2.1 0 1 0 -4.2 0M606.72 263.6a2.1 2.1 0 1 0 4.2 0a2.1 2.1 0 1 0 -4.2 0M607.73 263.6a2.1 2.1 0 1 0 4.2 0a2.1 2.1 0 1 0 -4.2 0M608.75 263.6a2.1 2.1 0 1 0 4.2 0a2.1 2.1 0 1 0 -4.2 0M609.76 263.6a2.1 2.1 0 1 0 4.2 0a2.1 2.1 0 1 0 -4.2 0M610.78 263.6a2.1 2.1 0 1 0 4.2 0a2.1 2.1 0 1 0 -4.2 0M611.79 263.6a2.1 2.1 0 1 0 4.2 0a2.1 2.1 0 1 0 -4.2 0M612.81 263.6a2.1 2.1 0 1 0 4.2 0a2.1 2.1 0 1 0 -4.2 0M613.83 263.6a2.1 2.1 0 1 0 4.2 0a2.1 2.1 0 1 0 -4.2 0M614.84 263.6a2.1 2.1 0 1 0 4.2 0a2.1 2.1 0 1 0 -4.2 0M615.86 263.6a2.1 2.1 0 1 0 4.2 0a2.1 2.1 0 1 0 -4.2 0M616.87 263.6a2.1 2.1 0 1 0 4.2 0a2.1 2.1 0 1 0 -4.2 0M617.89 263.6a2.1 2.1 0 1 0 4.2 0a2.1 2.1 0 1 0 -4.2 0M618.9 263.6a2.1 2.1 0 1 0 4.2 0a2.1 2.1 0 1 0 -4.2 0M619.92 263.6a2.1 2.1 0 1 0 4.2 0a2.1 2.1 0 1 0 -4.2 0M620.94 263.6a2.1 2.1 0 1 0 4.2 0a2.1 2.1 0 1 0 -4.2 0M621.95 263.6a2.1 2.1 0 1 0 4.2 0a2.1 2.1 0 1 0 -4.2 0M622.97 263.6a2.1 2.1 0 1 0 4.2 0a2.1 2.1 0 1 0 -4.2 0M623.98 263.6a2.1 2.1 0 1 0 4.2 0a2.1 2.1 0 1 0 -4.2 0M625 263.6a2.1 2.1 0 1 0 4.2 0a2.1 2.1 0 1 0 -4.2 0M626.02 263.6a2.1 2.1 0 1 0 4.2 0a2.1 2.1 0 1 0 -4.2 0M627.03 263.6a2.1 2.1 0 1 0 4.2 0a2.1 2.1 0 1 0 -4.2 0M628.05 263.6a2.1 2.1 0 1 0 4.2 0a2.1 2.1 0 1 0 -4.2 0M629.06 263.6a2.1 2.1 0 1 0 4.2 0a2.1 2.1 0 1 0 -4.2 0M630 232.9a2.1 2.1 0 1 0 4.2 0a2.1 2.1 0 1 0 -4.2 0M631.09 263.6a2.1 2.1 0 1 0 4.2 0a2.1 2.1 0 1 0 -4.2 0M632.11 263.6a2.1 2.1 0 1 0 4.2 0a2.1 2.1 0 1 0 -4.2 0M633.13 263.6a2.1 2.1 0 1 0 4.2 0a2.1 2.1 0 1 0 -4.2 0M634.14 263.6a2.1 2.1 0 1 0 4.2 0a2.1 2.1 0 1 0 -4.2 0M635.16 263.6a2.1 2.1 0 1 0 4.2 0a2.1 2.1 0 1 0 -4.2 0M636.17 263.6a2.1 2.1 0 1 0 4.2 0a2.1 2.1 0 1 0 -4.2 0M637.3 293.7a2.1 2.1 0 1 0 4.2 0a2.1 2.1 0 1 0 -4.2 0M638.21 263.6a2.1 2.1 0 1 0 4.2 0a2.1 2.1 0 1 0 -4.2 0M639.22 263.6a2.1 2.1 0 1 0 4.2 0a2.1 2.1 0 1 0 -4.2 0M640.24 263.6a2.1 2.1 0 1 0 4.2 0a2.1 2.1 0 1 0 -4.2 0M641.25 263.6a2.1 2.1 0 1 0 4.2 0a2.1 2.1 0 1 0 -4.2 0M642.27 263.6a2.1 2.1 0 1 0 4.2 0a2.1 2.1 0 1 0 -4.2 0M643 293.2a2.1 2.1 0 1 0 4.2 0a2.1 2.1 0 1 0 -4.2 0M644.3 263.6a2.1 2.1 0 1 0 4.2 0a2.1 2.1 0 1 0 -4.2 0M645.32 263.6a2.1 2.1 0 1 0 4.2 0a2.1 2.1 0 1 0 -4.2 0M646.33 263.6a2.1 2.1 0 1 0 4.2 0a2.1 2.1 0 1 0 -4.2 0M647.35 263.6a2.1 2.1 0 1 0 4.2 0a2.1 2.1 0 1 0 -4.2 0M648.36 263.6a2.1 2.1 0 1 0 4.2 0a2.1 2.1 0 1 0 -4.2 0M649.38 263.6a2.1 2.1 0 1 0 4.2 0a2.1 2.1 0 1 0 -4.2 0M650.39 263.6a2.1 2.1 0 1 0 4.2 0a2.1 2.1 0 1 0 -4.2 0" stroke="#45488a" stroke-width="0.9" fill="none"/>
<path d="M409.3 262.5v2.2M426.57 262.5v2.2M443.84 262.5v2.2M461.11 262.5v2.2M478.38 262.5v2.2M495.65 262.5v2.2M512.92 262.5v2.2M530.19 262.5v2.2M547.46 262.5v2.2M564.73 262.5v2.2M582 262.5v2.2M599.27 262.5v2.2M616.54 262.5v2.2M633.81 262.5v2.2M651.08 262.5v2.2" stroke="#2a2d6c" stroke-width="1.6" fill="none"/>
<path d="M428.9 198.3V327" stroke="#e05555" stroke-width="1.7" stroke-dasharray="4.9 1.8" stroke-dashoffset="0.8"/>
<rect x="392.45" y="196.3" width="260.35" height="135.15" fill="none" stroke="#505050" stroke-width="1"/>
<path d="M392.45 331.45v-2.6M392.45 196.3v2.6M443.3 331.45v-2.6M443.3 196.3v2.6M494.15 331.45v-2.6M494.15 196.3v2.6M545 331.45v-2.6M545 196.3v2.6M595.85 331.45v-2.6M595.85 196.3v2.6M646.7 331.45v-2.6M646.7 196.3v2.6M392.45 323.3h2.6M652.8 323.3h-2.6M392.45 293.45h2.6M652.8 293.45h-2.6M392.45 263.6h2.6M652.8 263.6h-2.6M392.45 233.75h2.6M652.8 233.75h-2.6M392.45 203.9h2.6M652.8 203.9h-2.6" stroke="#505050" stroke-width="1" fill="none"/>
<text transform="translate(392.45 340.96) scale(0.93 1)" text-anchor="middle" class="t">0</text>
<text transform="translate(443.3 340.96) scale(0.93 1)" text-anchor="middle" class="t">50</text>
<text transform="translate(494.15 340.96) scale(0.93 1)" text-anchor="middle" class="t">100</text>
<text transform="translate(545 340.96) scale(0.93 1)" text-anchor="middle" class="t">150</text>
<text transform="translate(595.85 340.96) scale(0.93 1)" text-anchor="middle" class="t">200</text>
<text transform="translate(646.7 340.96) scale(0.93 1)" text-anchor="middle" class="t">250</text>
<text transform="translate(389.7 326.81) scale(0.93 1)" text-anchor="end" class="t">-4000</text>
<text transform="translate(389.7 296.96) scale(0.93 1)" text-anchor="end" class="t">-2000</text>
<text transform="translate(389.7 267.11) scale(0.93 1)" text-anchor="end" class="t">0</text>
<text transform="translate(389.7 237.26) scale(0.93 1)" text-anchor="end" class="t">2000</text>
<text transform="translate(389.7 207.41) scale(0.93 1)" text-anchor="end" class="t">4000</text>
<text x="509.8" y="361.6" text-anchor="middle" class="cap">(c)</text>
</g>
</g></svg></body></html>
